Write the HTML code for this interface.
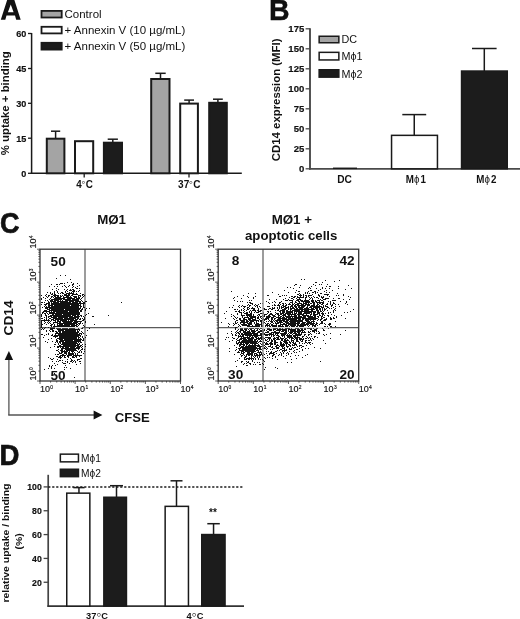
<!DOCTYPE html>
<html><head><meta charset="utf-8"><style>
html,body{margin:0;padding:0;background:#fff;}
body{width:520px;height:619px;overflow:hidden;}
svg{display:block;font-family:"Liberation Sans", sans-serif;fill:#111;filter:blur(0.3px);}
</style></head><body>
<svg width="520" height="619" viewBox="0 0 520 619">
<rect width="520" height="619" fill="#fff"/>
<path fill-rule="evenodd" fill="#111" d="M0.8 19.7L7.3 -0.5L14.2 -0.5L20.7 19.7L16.2 19.7L15.0 15.6L6.5 15.6L5.3 19.7Z M7.9 12.2L10.75 4.4L13.6 12.2Z"/>
<rect x="41.50" y="10.90" width="20.20" height="6.60" fill="#a4a4a4" stroke="#1a1a1a" stroke-width="1.8"/>
<rect x="41.50" y="26.80" width="20.20" height="6.60" fill="#fff" stroke="#1a1a1a" stroke-width="1.8"/>
<rect x="41.50" y="42.80" width="20.20" height="6.80" fill="#1c1c1c" stroke="#1a1a1a" stroke-width="1.8"/>
<text transform="translate(64.51 17.70)" font-size="11.5" font-weight="normal" >Control</text>
<text transform="translate(64.54 33.60)" font-size="11.5" font-weight="normal" >+ Annexin V (10 µg/mL)</text>
<text transform="translate(64.54 49.70)" font-size="11.5" font-weight="normal" >+ Annexin V (50 µg/mL)</text>
<line x1="31.60" y1="33.00" x2="31.60" y2="174.00" stroke="#1a1a1a" stroke-width="1.5" />
<line x1="28.00" y1="33.50" x2="31.60" y2="33.50" stroke="#1a1a1a" stroke-width="1.3" />
<text transform="translate(26.40 36.80) scale(0.93 1.0)" font-size="9.8" font-weight="bold" text-anchor="end" stroke="#111" stroke-width="0.18">60</text>
<line x1="28.00" y1="68.50" x2="31.60" y2="68.50" stroke="#1a1a1a" stroke-width="1.3" />
<text transform="translate(26.40 71.80) scale(0.93 1.0)" font-size="9.8" font-weight="bold" text-anchor="end" stroke="#111" stroke-width="0.18">45</text>
<line x1="28.00" y1="103.30" x2="31.60" y2="103.30" stroke="#1a1a1a" stroke-width="1.3" />
<text transform="translate(26.40 106.60) scale(0.93 1.0)" font-size="9.8" font-weight="bold" text-anchor="end" stroke="#111" stroke-width="0.18">30</text>
<line x1="28.00" y1="138.20" x2="31.60" y2="138.20" stroke="#1a1a1a" stroke-width="1.3" />
<text transform="translate(26.40 141.50) scale(0.93 1.0)" font-size="9.8" font-weight="bold" text-anchor="end" stroke="#111" stroke-width="0.18">15</text>
<line x1="28.00" y1="173.30" x2="31.60" y2="173.30" stroke="#1a1a1a" stroke-width="1.3" />
<text transform="translate(26.40 176.60) scale(0.93 1.0)" font-size="9.8" font-weight="bold" text-anchor="end" stroke="#111" stroke-width="0.18">0</text>
<line x1="30.80" y1="173.30" x2="241.80" y2="173.30" stroke="#1a1a1a" stroke-width="1.5" />
<text transform="translate(8.60 155.30) rotate(-90) scale(1.0 0.88)" font-size="11.4" font-weight="bold" >% uptake + binding</text>
<line x1="55.60" y1="131.20" x2="55.60" y2="138.70" stroke="#1a1a1a" stroke-width="1.5" />
<line x1="51.00" y1="131.20" x2="60.20" y2="131.20" stroke="#1a1a1a" stroke-width="1.5" />
<rect x="46.80" y="138.70" width="17.60" height="34.60" fill="#a4a4a4" stroke="#1a1a1a" stroke-width="2.0"/>
<rect x="75.00" y="141.20" width="18.20" height="32.10" fill="#fff" stroke="#1a1a1a" stroke-width="2.0"/>
<line x1="112.80" y1="139.20" x2="112.80" y2="142.70" stroke="#1a1a1a" stroke-width="1.5" />
<line x1="107.70" y1="139.20" x2="117.90" y2="139.20" stroke="#1a1a1a" stroke-width="1.5" />
<rect x="103.90" y="142.70" width="18.10" height="30.60" fill="#1c1c1c" stroke="#1a1a1a" stroke-width="2.0"/>
<line x1="160.50" y1="73.30" x2="160.50" y2="79.00" stroke="#1a1a1a" stroke-width="1.5" />
<line x1="155.30" y1="73.30" x2="165.70" y2="73.30" stroke="#1a1a1a" stroke-width="1.5" />
<rect x="151.20" y="79.00" width="18.30" height="94.30" fill="#a4a4a4" stroke="#1a1a1a" stroke-width="2.0"/>
<line x1="189.10" y1="100.10" x2="189.10" y2="103.60" stroke="#1a1a1a" stroke-width="1.5" />
<line x1="184.20" y1="100.10" x2="194.00" y2="100.10" stroke="#1a1a1a" stroke-width="1.5" />
<rect x="180.20" y="103.60" width="17.70" height="69.70" fill="#fff" stroke="#1a1a1a" stroke-width="2.0"/>
<line x1="217.90" y1="99.20" x2="217.90" y2="102.80" stroke="#1a1a1a" stroke-width="1.5" />
<line x1="213.00" y1="99.20" x2="222.80" y2="99.20" stroke="#1a1a1a" stroke-width="1.5" />
<rect x="209.20" y="102.80" width="17.60" height="70.50" fill="#1c1c1c" stroke="#1a1a1a" stroke-width="2.0"/>
<line x1="84.20" y1="173.30" x2="84.20" y2="177.50" stroke="#1a1a1a" stroke-width="1.3" />
<line x1="189.00" y1="173.30" x2="189.00" y2="177.50" stroke="#1a1a1a" stroke-width="1.3" />
<text transform="translate(84.50 187.60) scale(0.95 1.0)" font-size="10.4" font-weight="bold" text-anchor="middle" >4<tspan font-weight="bold" font-size="12" dx="-0.3" dy="-2.0">◦</tspan><tspan dx="0.2" dy="2.0">C</tspan></text>
<text transform="translate(189.30 187.80) scale(0.95 1.0)" font-size="10.6" font-weight="bold" text-anchor="middle" >37<tspan font-weight="bold" font-size="12" dx="-0.3" dy="-2.0">◦</tspan><tspan dx="0.2" dy="2.0">C</tspan></text>
<text transform="translate(269.09 20.20) scale(1.0 1.04)" font-size="28.5" font-weight="bold" stroke="#111" stroke-width="0.4">B</text>
<line x1="310.00" y1="28.30" x2="310.00" y2="169.60" stroke="#4a4a4a" stroke-width="1.9" />
<line x1="305.60" y1="28.80" x2="310.00" y2="28.80" stroke="#4a4a4a" stroke-width="1.3" />
<text transform="translate(304.30 32.40) scale(0.965 1.0)" font-size="9.9" font-weight="bold" text-anchor="end" stroke="#111" stroke-width="0.18">175</text>
<line x1="305.60" y1="48.80" x2="310.00" y2="48.80" stroke="#4a4a4a" stroke-width="1.3" />
<text transform="translate(304.30 52.40) scale(0.965 1.0)" font-size="9.9" font-weight="bold" text-anchor="end" stroke="#111" stroke-width="0.18">150</text>
<line x1="305.60" y1="68.80" x2="310.00" y2="68.80" stroke="#4a4a4a" stroke-width="1.3" />
<text transform="translate(304.30 72.40) scale(0.965 1.0)" font-size="9.9" font-weight="bold" text-anchor="end" stroke="#111" stroke-width="0.18">125</text>
<line x1="305.60" y1="88.80" x2="310.00" y2="88.80" stroke="#4a4a4a" stroke-width="1.3" />
<text transform="translate(304.30 92.40) scale(0.965 1.0)" font-size="9.9" font-weight="bold" text-anchor="end" stroke="#111" stroke-width="0.18">100</text>
<line x1="305.60" y1="108.80" x2="310.00" y2="108.80" stroke="#4a4a4a" stroke-width="1.3" />
<text transform="translate(304.30 112.40) scale(0.965 1.0)" font-size="9.9" font-weight="bold" text-anchor="end" stroke="#111" stroke-width="0.18">75</text>
<line x1="305.60" y1="128.80" x2="310.00" y2="128.80" stroke="#4a4a4a" stroke-width="1.3" />
<text transform="translate(304.30 132.40) scale(0.965 1.0)" font-size="9.9" font-weight="bold" text-anchor="end" stroke="#111" stroke-width="0.18">50</text>
<line x1="305.60" y1="148.80" x2="310.00" y2="148.80" stroke="#4a4a4a" stroke-width="1.3" />
<text transform="translate(304.30 152.40) scale(0.965 1.0)" font-size="9.9" font-weight="bold" text-anchor="end" stroke="#111" stroke-width="0.18">25</text>
<line x1="305.60" y1="168.80" x2="310.00" y2="168.80" stroke="#4a4a4a" stroke-width="1.3" />
<text transform="translate(304.30 172.40) scale(0.965 1.0)" font-size="9.9" font-weight="bold" text-anchor="end" stroke="#111" stroke-width="0.18">0</text>
<line x1="309.00" y1="168.80" x2="520.00" y2="168.80" stroke="#4a4a4a" stroke-width="1.7" />
<text transform="translate(279.90 161.20) rotate(-90) scale(1.0 0.88)" font-size="11.4" font-weight="bold" >CD14 expression (MFI)</text>
<rect x="319.15" y="36.25" width="19.70" height="6.50" fill="#a4a4a4" stroke="#1a1a1a" stroke-width="1.5"/>
<rect x="319.15" y="52.35" width="19.70" height="7.60" fill="#fff" stroke="#1a1a1a" stroke-width="1.5"/>
<rect x="319.15" y="69.75" width="19.70" height="7.40" fill="#1c1c1c" stroke="#1a1a1a" stroke-width="1.5"/>
<text transform="translate(341.44 43.00)" font-size="10.8" font-weight="normal" >DC</text>
<text transform="translate(341.44 60.20)" font-size="10.8" font-weight="normal" >Mϕ1</text>
<text transform="translate(341.44 77.60)" font-size="10.8" font-weight="normal" >Mϕ2</text>
<line x1="333.00" y1="168.30" x2="357.00" y2="168.30" stroke="#1a1a1a" stroke-width="1.5" />
<line x1="414.25" y1="114.60" x2="414.25" y2="135.60" stroke="#1a1a1a" stroke-width="1.5" />
<line x1="402.30" y1="114.60" x2="426.20" y2="114.60" stroke="#1a1a1a" stroke-width="1.5" />
<rect x="391.55" y="135.35" width="45.90" height="33.45" fill="#fff" stroke="#1a1a1a" stroke-width="1.5"/>
<line x1="484.30" y1="48.50" x2="484.30" y2="71.30" stroke="#1a1a1a" stroke-width="1.5" />
<line x1="472.00" y1="48.50" x2="496.60" y2="48.50" stroke="#1a1a1a" stroke-width="1.5" />
<rect x="461.55" y="71.05" width="45.70" height="97.75" fill="#1c1c1c" stroke="#1a1a1a" stroke-width="1.5"/>
<text transform="translate(344.60 183.00) scale(0.97 1.0)" font-size="10.5" font-weight="bold" text-anchor="middle" >DC</text>
<text transform="translate(415.80 183.00) scale(0.97 1.0)" font-size="10.1" font-weight="bold" text-anchor="middle" >M<tspan font-weight="normal">ϕ</tspan><tspan dx="1">1</tspan></text>
<text transform="translate(486.40 183.00) scale(0.97 1.0)" font-size="10.1" font-weight="bold" text-anchor="middle" >M<tspan font-weight="normal">ϕ</tspan><tspan dx="1">2</tspan></text>
<text transform="translate(-0.10 233.00) scale(0.91 1.0)" font-size="29.6" font-weight="bold" stroke="#111" stroke-width="0.7">C</text>
<text transform="translate(111.60 223.60)" font-size="13.3" font-weight="bold" text-anchor="middle" >MØ1</text>
<text transform="translate(291.80 224.40)" font-size="13.3" font-weight="bold" text-anchor="middle" >MØ1 +</text>
<text transform="translate(291.20 240.40)" font-size="13.2" font-weight="bold" text-anchor="middle" >apoptotic cells</text>
<line x1="85.00" y1="249.20" x2="85.00" y2="381.00" stroke="#5a5a5a" stroke-width="1.2" />
<line x1="40.00" y1="327.60" x2="180.50" y2="327.60" stroke="#5a5a5a" stroke-width="1.2" />
<path d="M41 295h1v1h-1zM41 298h1v1h-1zM41 299h1v1h-1zM41 302h1v1h-1zM41 304h1v1h-1zM41 314h1v1h-1zM41 315h1v1h-1zM41 316h1v1h-1zM41 318h1v1h-1zM41 320h1v1h-1zM41 321h1v1h-1zM41 322h1v1h-1zM41 323h1v1h-1zM41 324h1v1h-1zM41 325h1v1h-1zM41 326h1v1h-1zM41 327h1v1h-1zM41 329h1v1h-1zM41 334h1v1h-1zM42 302h1v1h-1zM42 307h1v1h-1zM42 312h1v1h-1zM42 313h1v1h-1zM42 318h1v1h-1zM42 320h1v1h-1zM42 324h1v1h-1zM42 328h1v1h-1zM42 334h1v1h-1zM43 297h1v1h-1zM43 311h1v1h-1zM43 312h1v1h-1zM43 320h1v1h-1zM43 329h1v1h-1zM43 337h1v1h-1zM44 302h1v1h-1zM44 304h1v1h-1zM44 306h1v1h-1zM44 310h1v1h-1zM44 311h1v1h-1zM44 313h1v1h-1zM44 317h1v1h-1zM44 319h1v1h-1zM44 320h1v1h-1zM44 321h1v1h-1zM44 323h1v1h-1zM44 328h1v1h-1zM44 335h1v1h-1zM44 369h1v1h-1zM45 295h1v1h-1zM45 298h1v1h-1zM45 300h1v1h-1zM45 304h1v1h-1zM45 305h1v1h-1zM45 307h1v1h-1zM45 308h1v1h-1zM45 310h1v1h-1zM45 311h1v1h-1zM45 313h1v1h-1zM45 314h1v1h-1zM45 315h1v1h-1zM45 320h1v1h-1zM45 322h1v1h-1zM45 327h1v1h-1zM45 341h1v1h-1zM46 294h1v1h-1zM46 296h1v1h-1zM46 303h1v1h-1zM46 304h1v1h-1zM46 306h1v1h-1zM46 307h1v1h-1zM46 308h1v1h-1zM46 310h1v1h-1zM46 311h1v1h-1zM46 312h1v1h-1zM46 315h1v1h-1zM46 316h1v1h-1zM46 317h1v1h-1zM46 318h1v1h-1zM46 319h1v1h-1zM46 320h1v1h-1zM46 324h1v1h-1zM46 330h1v1h-1zM46 331h1v1h-1zM46 334h1v1h-1zM47 292h1v1h-1zM47 297h1v1h-1zM47 300h1v1h-1zM47 303h1v1h-1zM47 307h1v1h-1zM47 308h1v1h-1zM47 309h1v1h-1zM47 311h1v1h-1zM47 313h1v1h-1zM47 320h1v1h-1zM47 322h1v1h-1zM47 342h1v1h-1zM48 295h1v1h-1zM48 296h1v1h-1zM48 301h1v1h-1zM48 302h1v1h-1zM48 303h1v1h-1zM48 304h1v1h-1zM48 305h1v1h-1zM48 306h1v1h-1zM48 307h1v1h-1zM48 309h1v1h-1zM48 311h1v1h-1zM48 314h1v1h-1zM48 316h1v1h-1zM48 317h1v1h-1zM48 319h1v1h-1zM48 320h1v1h-1zM48 321h1v1h-1zM48 323h1v1h-1zM48 327h1v1h-1zM48 333h1v1h-1zM48 334h1v1h-1zM48 339h1v1h-1zM48 357h1v1h-1zM48 368h1v1h-1zM49 286h1v1h-1zM49 295h1v1h-1zM49 299h1v1h-1zM49 302h1v1h-1zM49 303h1v1h-1zM49 304h1v1h-1zM49 305h1v1h-1zM49 306h1v1h-1zM49 307h1v1h-1zM49 308h1v1h-1zM49 309h1v1h-1zM49 310h1v1h-1zM49 311h1v1h-1zM49 312h1v1h-1zM49 313h1v1h-1zM49 316h1v1h-1zM49 318h1v1h-1zM49 320h1v1h-1zM49 322h1v1h-1zM49 330h1v1h-1zM49 365h1v1h-1zM49 366h1v1h-1zM50 292h1v1h-1zM50 293h1v1h-1zM50 298h1v1h-1zM50 300h1v1h-1zM50 301h1v1h-1zM50 305h1v1h-1zM50 307h1v1h-1zM50 308h1v1h-1zM50 310h1v1h-1zM50 312h1v1h-1zM50 313h1v1h-1zM50 315h1v1h-1zM50 316h1v1h-1zM50 318h1v1h-1zM50 321h1v1h-1zM50 323h1v1h-1zM50 325h1v1h-1zM50 328h1v1h-1zM50 329h1v1h-1zM50 331h1v1h-1zM50 347h1v1h-1zM50 358h1v1h-1zM51 284h1v1h-1zM51 294h1v1h-1zM51 296h1v1h-1zM51 297h1v1h-1zM51 299h1v1h-1zM51 300h1v1h-1zM51 301h1v1h-1zM51 302h1v1h-1zM51 303h1v1h-1zM51 304h1v1h-1zM51 305h1v1h-1zM51 306h1v1h-1zM51 307h1v1h-1zM51 308h1v1h-1zM51 309h1v1h-1zM51 310h1v1h-1zM51 311h1v1h-1zM51 312h1v1h-1zM51 313h1v1h-1zM51 315h1v1h-1zM51 316h1v1h-1zM51 317h1v1h-1zM51 319h1v1h-1zM51 320h1v1h-1zM51 324h1v1h-1zM51 325h1v1h-1zM51 326h1v1h-1zM51 328h1v1h-1zM51 329h1v1h-1zM51 335h1v1h-1zM51 338h1v1h-1zM51 359h1v1h-1zM51 366h1v1h-1zM51 367h1v1h-1zM51 368h1v1h-1zM52 289h1v1h-1zM52 293h1v1h-1zM52 294h1v1h-1zM52 296h1v1h-1zM52 299h1v1h-1zM52 300h1v1h-1zM52 301h1v1h-1zM52 303h1v1h-1zM52 304h1v1h-1zM52 305h1v1h-1zM52 306h1v1h-1zM52 307h1v1h-1zM52 308h1v1h-1zM52 309h1v1h-1zM52 310h1v1h-1zM52 312h1v1h-1zM52 313h1v1h-1zM52 314h1v1h-1zM52 315h1v1h-1zM52 317h1v1h-1zM52 319h1v1h-1zM52 324h1v1h-1zM52 328h1v1h-1zM52 329h1v1h-1zM52 330h1v1h-1zM52 331h1v1h-1zM52 334h1v1h-1zM52 335h1v1h-1zM52 341h1v1h-1zM52 359h1v1h-1zM52 361h1v1h-1zM52 365h1v1h-1zM53 295h1v1h-1zM53 297h1v1h-1zM53 299h1v1h-1zM53 301h1v1h-1zM53 302h1v1h-1zM53 303h1v1h-1zM53 304h1v1h-1zM53 306h1v1h-1zM53 307h1v1h-1zM53 308h1v1h-1zM53 309h1v1h-1zM53 310h1v1h-1zM53 311h1v1h-1zM53 312h1v1h-1zM53 313h1v1h-1zM53 314h1v1h-1zM53 315h1v1h-1zM53 316h1v1h-1zM53 317h1v1h-1zM53 318h1v1h-1zM53 319h1v1h-1zM53 320h1v1h-1zM53 322h1v1h-1zM53 323h1v1h-1zM53 326h1v1h-1zM53 328h1v1h-1zM53 330h1v1h-1zM53 331h1v1h-1zM53 336h1v1h-1zM53 358h1v1h-1zM54 286h1v1h-1zM54 291h1v1h-1zM54 292h1v1h-1zM54 293h1v1h-1zM54 294h1v1h-1zM54 295h1v1h-1zM54 296h1v1h-1zM54 298h1v1h-1zM54 299h1v1h-1zM54 300h1v1h-1zM54 301h1v1h-1zM54 302h1v1h-1zM54 303h1v1h-1zM54 304h1v1h-1zM54 305h1v1h-1zM54 306h1v1h-1zM54 307h1v1h-1zM54 308h1v1h-1zM54 309h1v1h-1zM54 310h1v1h-1zM54 311h1v1h-1zM54 312h1v1h-1zM54 313h1v1h-1zM54 315h1v1h-1zM54 316h1v1h-1zM54 317h1v1h-1zM54 318h1v1h-1zM54 320h1v1h-1zM54 322h1v1h-1zM54 324h1v1h-1zM54 325h1v1h-1zM54 326h1v1h-1zM54 328h1v1h-1zM54 335h1v1h-1zM54 336h1v1h-1zM54 344h1v1h-1zM54 346h1v1h-1zM54 363h1v1h-1zM54 368h1v1h-1zM54 373h1v1h-1zM55 294h1v1h-1zM55 295h1v1h-1zM55 296h1v1h-1zM55 297h1v1h-1zM55 298h1v1h-1zM55 299h1v1h-1zM55 300h1v1h-1zM55 301h1v1h-1zM55 302h1v1h-1zM55 303h1v1h-1zM55 304h1v1h-1zM55 305h1v1h-1zM55 306h1v1h-1zM55 307h1v1h-1zM55 308h1v1h-1zM55 309h1v1h-1zM55 310h1v1h-1zM55 311h1v1h-1zM55 313h1v1h-1zM55 314h1v1h-1zM55 315h1v1h-1zM55 316h1v1h-1zM55 317h1v1h-1zM55 318h1v1h-1zM55 319h1v1h-1zM55 320h1v1h-1zM55 321h1v1h-1zM55 322h1v1h-1zM55 326h1v1h-1zM55 331h1v1h-1zM55 333h1v1h-1zM55 334h1v1h-1zM55 335h1v1h-1zM55 336h1v1h-1zM55 337h1v1h-1zM55 342h1v1h-1zM55 344h1v1h-1zM55 354h1v1h-1zM55 365h1v1h-1zM56 278h1v1h-1zM56 284h1v1h-1zM56 288h1v1h-1zM56 290h1v1h-1zM56 295h1v1h-1zM56 297h1v1h-1zM56 298h1v1h-1zM56 299h1v1h-1zM56 300h1v1h-1zM56 302h1v1h-1zM56 303h1v1h-1zM56 304h1v1h-1zM56 305h1v1h-1zM56 306h1v1h-1zM56 307h1v1h-1zM56 308h1v1h-1zM56 309h1v1h-1zM56 310h1v1h-1zM56 311h1v1h-1zM56 312h1v1h-1zM56 313h1v1h-1zM56 314h1v1h-1zM56 315h1v1h-1zM56 316h1v1h-1zM56 317h1v1h-1zM56 318h1v1h-1zM56 319h1v1h-1zM56 322h1v1h-1zM56 326h1v1h-1zM56 327h1v1h-1zM56 328h1v1h-1zM56 331h1v1h-1zM56 332h1v1h-1zM56 333h1v1h-1zM56 335h1v1h-1zM56 336h1v1h-1zM56 339h1v1h-1zM56 340h1v1h-1zM56 341h1v1h-1zM56 350h1v1h-1zM56 356h1v1h-1zM56 361h1v1h-1zM57 284h1v1h-1zM57 286h1v1h-1zM57 291h1v1h-1zM57 292h1v1h-1zM57 295h1v1h-1zM57 296h1v1h-1zM57 297h1v1h-1zM57 298h1v1h-1zM57 299h1v1h-1zM57 300h1v1h-1zM57 301h1v1h-1zM57 302h1v1h-1zM57 303h1v1h-1zM57 304h1v1h-1zM57 305h1v1h-1zM57 306h1v1h-1zM57 307h1v1h-1zM57 308h1v1h-1zM57 309h1v1h-1zM57 310h1v1h-1zM57 311h1v1h-1zM57 312h1v1h-1zM57 313h1v1h-1zM57 314h1v1h-1zM57 315h1v1h-1zM57 316h1v1h-1zM57 318h1v1h-1zM57 319h1v1h-1zM57 320h1v1h-1zM57 321h1v1h-1zM57 322h1v1h-1zM57 323h1v1h-1zM57 324h1v1h-1zM57 325h1v1h-1zM57 326h1v1h-1zM57 328h1v1h-1zM57 329h1v1h-1zM57 332h1v1h-1zM57 333h1v1h-1zM57 335h1v1h-1zM57 336h1v1h-1zM57 338h1v1h-1zM57 340h1v1h-1zM57 341h1v1h-1zM57 342h1v1h-1zM57 346h1v1h-1zM57 347h1v1h-1zM57 350h1v1h-1zM57 354h1v1h-1zM57 356h1v1h-1zM57 359h1v1h-1zM57 364h1v1h-1zM58 289h1v1h-1zM58 293h1v1h-1zM58 295h1v1h-1zM58 296h1v1h-1zM58 297h1v1h-1zM58 298h1v1h-1zM58 299h1v1h-1zM58 300h1v1h-1zM58 301h1v1h-1zM58 302h1v1h-1zM58 303h1v1h-1zM58 304h1v1h-1zM58 305h1v1h-1zM58 306h1v1h-1zM58 307h1v1h-1zM58 308h1v1h-1zM58 309h1v1h-1zM58 310h1v1h-1zM58 311h1v1h-1zM58 312h1v1h-1zM58 313h1v1h-1zM58 314h1v1h-1zM58 315h1v1h-1zM58 316h1v1h-1zM58 317h1v1h-1zM58 318h1v1h-1zM58 319h1v1h-1zM58 320h1v1h-1zM58 321h1v1h-1zM58 323h1v1h-1zM58 325h1v1h-1zM58 326h1v1h-1zM58 328h1v1h-1zM58 329h1v1h-1zM58 330h1v1h-1zM58 331h1v1h-1zM58 333h1v1h-1zM58 334h1v1h-1zM58 335h1v1h-1zM58 338h1v1h-1zM58 343h1v1h-1zM58 344h1v1h-1zM58 346h1v1h-1zM58 347h1v1h-1zM58 349h1v1h-1zM58 351h1v1h-1zM58 354h1v1h-1zM58 357h1v1h-1zM58 361h1v1h-1zM59 284h1v1h-1zM59 297h1v1h-1zM59 298h1v1h-1zM59 299h1v1h-1zM59 301h1v1h-1zM59 303h1v1h-1zM59 304h1v1h-1zM59 305h1v1h-1zM59 306h1v1h-1zM59 307h1v1h-1zM59 308h1v1h-1zM59 309h1v1h-1zM59 310h1v1h-1zM59 311h1v1h-1zM59 312h1v1h-1zM59 313h1v1h-1zM59 314h1v1h-1zM59 315h1v1h-1zM59 316h1v1h-1zM59 317h1v1h-1zM59 318h1v1h-1zM59 319h1v1h-1zM59 321h1v1h-1zM59 322h1v1h-1zM59 323h1v1h-1zM59 324h1v1h-1zM59 325h1v1h-1zM59 326h1v1h-1zM59 327h1v1h-1zM59 328h1v1h-1zM59 329h1v1h-1zM59 330h1v1h-1zM59 331h1v1h-1zM59 332h1v1h-1zM59 333h1v1h-1zM59 334h1v1h-1zM59 335h1v1h-1zM59 336h1v1h-1zM59 337h1v1h-1zM59 338h1v1h-1zM59 339h1v1h-1zM59 341h1v1h-1zM59 342h1v1h-1zM59 345h1v1h-1zM59 346h1v1h-1zM59 352h1v1h-1zM59 353h1v1h-1zM59 356h1v1h-1zM59 357h1v1h-1zM59 360h1v1h-1zM60 275h1v1h-1zM60 283h1v1h-1zM60 293h1v1h-1zM60 295h1v1h-1zM60 296h1v1h-1zM60 297h1v1h-1zM60 298h1v1h-1zM60 299h1v1h-1zM60 300h1v1h-1zM60 301h1v1h-1zM60 302h1v1h-1zM60 303h1v1h-1zM60 304h1v1h-1zM60 305h1v1h-1zM60 306h1v1h-1zM60 307h1v1h-1zM60 308h1v1h-1zM60 309h1v1h-1zM60 310h1v1h-1zM60 311h1v1h-1zM60 312h1v1h-1zM60 313h1v1h-1zM60 314h1v1h-1zM60 315h1v1h-1zM60 316h1v1h-1zM60 317h1v1h-1zM60 318h1v1h-1zM60 319h1v1h-1zM60 320h1v1h-1zM60 321h1v1h-1zM60 322h1v1h-1zM60 323h1v1h-1zM60 324h1v1h-1zM60 325h1v1h-1zM60 326h1v1h-1zM60 327h1v1h-1zM60 328h1v1h-1zM60 329h1v1h-1zM60 330h1v1h-1zM60 331h1v1h-1zM60 332h1v1h-1zM60 333h1v1h-1zM60 334h1v1h-1zM60 335h1v1h-1zM60 336h1v1h-1zM60 337h1v1h-1zM60 338h1v1h-1zM60 339h1v1h-1zM60 340h1v1h-1zM60 341h1v1h-1zM60 342h1v1h-1zM60 343h1v1h-1zM60 345h1v1h-1zM60 346h1v1h-1zM60 347h1v1h-1zM60 350h1v1h-1zM60 353h1v1h-1zM60 355h1v1h-1zM60 356h1v1h-1zM60 357h1v1h-1zM60 358h1v1h-1zM60 360h1v1h-1zM61 283h1v1h-1zM61 292h1v1h-1zM61 296h1v1h-1zM61 298h1v1h-1zM61 299h1v1h-1zM61 301h1v1h-1zM61 302h1v1h-1zM61 303h1v1h-1zM61 304h1v1h-1zM61 305h1v1h-1zM61 306h1v1h-1zM61 307h1v1h-1zM61 308h1v1h-1zM61 309h1v1h-1zM61 310h1v1h-1zM61 311h1v1h-1zM61 312h1v1h-1zM61 313h1v1h-1zM61 314h1v1h-1zM61 315h1v1h-1zM61 316h1v1h-1zM61 317h1v1h-1zM61 318h1v1h-1zM61 319h1v1h-1zM61 320h1v1h-1zM61 323h1v1h-1zM61 324h1v1h-1zM61 325h1v1h-1zM61 326h1v1h-1zM61 329h1v1h-1zM61 330h1v1h-1zM61 333h1v1h-1zM61 334h1v1h-1zM61 335h1v1h-1zM61 336h1v1h-1zM61 337h1v1h-1zM61 338h1v1h-1zM61 339h1v1h-1zM61 340h1v1h-1zM61 341h1v1h-1zM61 344h1v1h-1zM61 346h1v1h-1zM61 348h1v1h-1zM61 349h1v1h-1zM61 350h1v1h-1zM61 351h1v1h-1zM61 352h1v1h-1zM61 353h1v1h-1zM61 355h1v1h-1zM61 357h1v1h-1zM62 283h1v1h-1zM62 286h1v1h-1zM62 292h1v1h-1zM62 293h1v1h-1zM62 295h1v1h-1zM62 298h1v1h-1zM62 300h1v1h-1zM62 301h1v1h-1zM62 302h1v1h-1zM62 303h1v1h-1zM62 304h1v1h-1zM62 305h1v1h-1zM62 306h1v1h-1zM62 307h1v1h-1zM62 308h1v1h-1zM62 309h1v1h-1zM62 310h1v1h-1zM62 311h1v1h-1zM62 312h1v1h-1zM62 313h1v1h-1zM62 315h1v1h-1zM62 316h1v1h-1zM62 317h1v1h-1zM62 318h1v1h-1zM62 319h1v1h-1zM62 320h1v1h-1zM62 321h1v1h-1zM62 323h1v1h-1zM62 324h1v1h-1zM62 325h1v1h-1zM62 326h1v1h-1zM62 328h1v1h-1zM62 329h1v1h-1zM62 330h1v1h-1zM62 331h1v1h-1zM62 332h1v1h-1zM62 333h1v1h-1zM62 334h1v1h-1zM62 335h1v1h-1zM62 336h1v1h-1zM62 337h1v1h-1zM62 338h1v1h-1zM62 339h1v1h-1zM62 340h1v1h-1zM62 341h1v1h-1zM62 342h1v1h-1zM62 343h1v1h-1zM62 344h1v1h-1zM62 346h1v1h-1zM62 347h1v1h-1zM62 348h1v1h-1zM62 349h1v1h-1zM62 350h1v1h-1zM62 351h1v1h-1zM62 352h1v1h-1zM62 354h1v1h-1zM62 355h1v1h-1zM62 356h1v1h-1zM62 360h1v1h-1zM62 362h1v1h-1zM63 293h1v1h-1zM63 296h1v1h-1zM63 297h1v1h-1zM63 298h1v1h-1zM63 299h1v1h-1zM63 301h1v1h-1zM63 302h1v1h-1zM63 303h1v1h-1zM63 304h1v1h-1zM63 305h1v1h-1zM63 306h1v1h-1zM63 307h1v1h-1zM63 308h1v1h-1zM63 309h1v1h-1zM63 310h1v1h-1zM63 311h1v1h-1zM63 312h1v1h-1zM63 313h1v1h-1zM63 314h1v1h-1zM63 315h1v1h-1zM63 316h1v1h-1zM63 317h1v1h-1zM63 319h1v1h-1zM63 320h1v1h-1zM63 321h1v1h-1zM63 322h1v1h-1zM63 323h1v1h-1zM63 325h1v1h-1zM63 326h1v1h-1zM63 327h1v1h-1zM63 328h1v1h-1zM63 329h1v1h-1zM63 330h1v1h-1zM63 331h1v1h-1zM63 332h1v1h-1zM63 333h1v1h-1zM63 334h1v1h-1zM63 335h1v1h-1zM63 336h1v1h-1zM63 337h1v1h-1zM63 338h1v1h-1zM63 340h1v1h-1zM63 341h1v1h-1zM63 342h1v1h-1zM63 343h1v1h-1zM63 344h1v1h-1zM63 345h1v1h-1zM63 346h1v1h-1zM63 347h1v1h-1zM63 348h1v1h-1zM63 351h1v1h-1zM63 354h1v1h-1zM63 355h1v1h-1zM63 363h1v1h-1zM64 283h1v1h-1zM64 285h1v1h-1zM64 289h1v1h-1zM64 294h1v1h-1zM64 295h1v1h-1zM64 297h1v1h-1zM64 298h1v1h-1zM64 299h1v1h-1zM64 301h1v1h-1zM64 302h1v1h-1zM64 303h1v1h-1zM64 304h1v1h-1zM64 305h1v1h-1zM64 306h1v1h-1zM64 307h1v1h-1zM64 308h1v1h-1zM64 310h1v1h-1zM64 311h1v1h-1zM64 312h1v1h-1zM64 313h1v1h-1zM64 314h1v1h-1zM64 315h1v1h-1zM64 316h1v1h-1zM64 317h1v1h-1zM64 318h1v1h-1zM64 319h1v1h-1zM64 320h1v1h-1zM64 321h1v1h-1zM64 322h1v1h-1zM64 323h1v1h-1zM64 324h1v1h-1zM64 325h1v1h-1zM64 326h1v1h-1zM64 327h1v1h-1zM64 328h1v1h-1zM64 329h1v1h-1zM64 331h1v1h-1zM64 332h1v1h-1zM64 333h1v1h-1zM64 334h1v1h-1zM64 335h1v1h-1zM64 336h1v1h-1zM64 337h1v1h-1zM64 338h1v1h-1zM64 339h1v1h-1zM64 340h1v1h-1zM64 342h1v1h-1zM64 343h1v1h-1zM64 344h1v1h-1zM64 345h1v1h-1zM64 346h1v1h-1zM64 348h1v1h-1zM64 350h1v1h-1zM64 351h1v1h-1zM64 352h1v1h-1zM64 353h1v1h-1zM64 355h1v1h-1zM64 356h1v1h-1zM64 357h1v1h-1zM64 363h1v1h-1zM64 367h1v1h-1zM64 369h1v1h-1zM65 275h1v1h-1zM65 286h1v1h-1zM65 291h1v1h-1zM65 292h1v1h-1zM65 294h1v1h-1zM65 295h1v1h-1zM65 297h1v1h-1zM65 299h1v1h-1zM65 300h1v1h-1zM65 301h1v1h-1zM65 302h1v1h-1zM65 303h1v1h-1zM65 304h1v1h-1zM65 305h1v1h-1zM65 306h1v1h-1zM65 307h1v1h-1zM65 308h1v1h-1zM65 309h1v1h-1zM65 310h1v1h-1zM65 311h1v1h-1zM65 312h1v1h-1zM65 313h1v1h-1zM65 314h1v1h-1zM65 315h1v1h-1zM65 316h1v1h-1zM65 317h1v1h-1zM65 318h1v1h-1zM65 319h1v1h-1zM65 320h1v1h-1zM65 321h1v1h-1zM65 322h1v1h-1zM65 323h1v1h-1zM65 324h1v1h-1zM65 325h1v1h-1zM65 326h1v1h-1zM65 327h1v1h-1zM65 328h1v1h-1zM65 329h1v1h-1zM65 330h1v1h-1zM65 331h1v1h-1zM65 332h1v1h-1zM65 333h1v1h-1zM65 334h1v1h-1zM65 335h1v1h-1zM65 336h1v1h-1zM65 337h1v1h-1zM65 338h1v1h-1zM65 339h1v1h-1zM65 340h1v1h-1zM65 341h1v1h-1zM65 342h1v1h-1zM65 343h1v1h-1zM65 344h1v1h-1zM65 345h1v1h-1zM65 346h1v1h-1zM65 347h1v1h-1zM65 348h1v1h-1zM65 349h1v1h-1zM65 351h1v1h-1zM65 352h1v1h-1zM65 353h1v1h-1zM65 355h1v1h-1zM65 357h1v1h-1zM65 361h1v1h-1zM65 363h1v1h-1zM65 365h1v1h-1zM66 287h1v1h-1zM66 290h1v1h-1zM66 293h1v1h-1zM66 294h1v1h-1zM66 295h1v1h-1zM66 296h1v1h-1zM66 297h1v1h-1zM66 299h1v1h-1zM66 300h1v1h-1zM66 301h1v1h-1zM66 302h1v1h-1zM66 303h1v1h-1zM66 304h1v1h-1zM66 305h1v1h-1zM66 306h1v1h-1zM66 307h1v1h-1zM66 308h1v1h-1zM66 309h1v1h-1zM66 310h1v1h-1zM66 311h1v1h-1zM66 312h1v1h-1zM66 313h1v1h-1zM66 314h1v1h-1zM66 315h1v1h-1zM66 316h1v1h-1zM66 317h1v1h-1zM66 318h1v1h-1zM66 319h1v1h-1zM66 320h1v1h-1zM66 321h1v1h-1zM66 322h1v1h-1zM66 323h1v1h-1zM66 324h1v1h-1zM66 325h1v1h-1zM66 326h1v1h-1zM66 328h1v1h-1zM66 329h1v1h-1zM66 330h1v1h-1zM66 331h1v1h-1zM66 332h1v1h-1zM66 333h1v1h-1zM66 334h1v1h-1zM66 335h1v1h-1zM66 336h1v1h-1zM66 337h1v1h-1zM66 338h1v1h-1zM66 339h1v1h-1zM66 340h1v1h-1zM66 341h1v1h-1zM66 342h1v1h-1zM66 343h1v1h-1zM66 344h1v1h-1zM66 345h1v1h-1zM66 346h1v1h-1zM66 347h1v1h-1zM66 348h1v1h-1zM66 349h1v1h-1zM66 350h1v1h-1zM66 351h1v1h-1zM66 352h1v1h-1zM66 353h1v1h-1zM66 354h1v1h-1zM66 367h1v1h-1zM67 282h1v1h-1zM67 289h1v1h-1zM67 291h1v1h-1zM67 293h1v1h-1zM67 295h1v1h-1zM67 296h1v1h-1zM67 297h1v1h-1zM67 298h1v1h-1zM67 299h1v1h-1zM67 300h1v1h-1zM67 301h1v1h-1zM67 302h1v1h-1zM67 303h1v1h-1zM67 304h1v1h-1zM67 305h1v1h-1zM67 306h1v1h-1zM67 307h1v1h-1zM67 308h1v1h-1zM67 309h1v1h-1zM67 310h1v1h-1zM67 311h1v1h-1zM67 312h1v1h-1zM67 313h1v1h-1zM67 314h1v1h-1zM67 315h1v1h-1zM67 316h1v1h-1zM67 317h1v1h-1zM67 318h1v1h-1zM67 319h1v1h-1zM67 321h1v1h-1zM67 322h1v1h-1zM67 323h1v1h-1zM67 324h1v1h-1zM67 325h1v1h-1zM67 326h1v1h-1zM67 327h1v1h-1zM67 328h1v1h-1zM67 329h1v1h-1zM67 330h1v1h-1zM67 331h1v1h-1zM67 332h1v1h-1zM67 333h1v1h-1zM67 334h1v1h-1zM67 335h1v1h-1zM67 336h1v1h-1zM67 337h1v1h-1zM67 338h1v1h-1zM67 339h1v1h-1zM67 340h1v1h-1zM67 341h1v1h-1zM67 342h1v1h-1zM67 343h1v1h-1zM67 344h1v1h-1zM67 345h1v1h-1zM67 346h1v1h-1zM67 347h1v1h-1zM67 348h1v1h-1zM67 349h1v1h-1zM67 350h1v1h-1zM67 351h1v1h-1zM67 355h1v1h-1zM67 356h1v1h-1zM67 359h1v1h-1zM67 361h1v1h-1zM67 362h1v1h-1zM68 286h1v1h-1zM68 293h1v1h-1zM68 294h1v1h-1zM68 295h1v1h-1zM68 296h1v1h-1zM68 297h1v1h-1zM68 298h1v1h-1zM68 299h1v1h-1zM68 300h1v1h-1zM68 302h1v1h-1zM68 303h1v1h-1zM68 304h1v1h-1zM68 305h1v1h-1zM68 306h1v1h-1zM68 307h1v1h-1zM68 308h1v1h-1zM68 309h1v1h-1zM68 310h1v1h-1zM68 312h1v1h-1zM68 313h1v1h-1zM68 314h1v1h-1zM68 315h1v1h-1zM68 316h1v1h-1zM68 318h1v1h-1zM68 319h1v1h-1zM68 320h1v1h-1zM68 321h1v1h-1zM68 322h1v1h-1zM68 323h1v1h-1zM68 324h1v1h-1zM68 325h1v1h-1zM68 326h1v1h-1zM68 327h1v1h-1zM68 329h1v1h-1zM68 330h1v1h-1zM68 331h1v1h-1zM68 332h1v1h-1zM68 333h1v1h-1zM68 334h1v1h-1zM68 335h1v1h-1zM68 336h1v1h-1zM68 337h1v1h-1zM68 338h1v1h-1zM68 339h1v1h-1zM68 340h1v1h-1zM68 341h1v1h-1zM68 342h1v1h-1zM68 343h1v1h-1zM68 344h1v1h-1zM68 345h1v1h-1zM68 346h1v1h-1zM68 347h1v1h-1zM68 348h1v1h-1zM68 349h1v1h-1zM68 350h1v1h-1zM68 352h1v1h-1zM68 353h1v1h-1zM68 354h1v1h-1zM68 355h1v1h-1zM68 356h1v1h-1zM68 357h1v1h-1zM69 285h1v1h-1zM69 290h1v1h-1zM69 292h1v1h-1zM69 293h1v1h-1zM69 294h1v1h-1zM69 295h1v1h-1zM69 297h1v1h-1zM69 298h1v1h-1zM69 299h1v1h-1zM69 300h1v1h-1zM69 301h1v1h-1zM69 302h1v1h-1zM69 303h1v1h-1zM69 304h1v1h-1zM69 305h1v1h-1zM69 306h1v1h-1zM69 307h1v1h-1zM69 308h1v1h-1zM69 309h1v1h-1zM69 310h1v1h-1zM69 311h1v1h-1zM69 312h1v1h-1zM69 313h1v1h-1zM69 314h1v1h-1zM69 315h1v1h-1zM69 316h1v1h-1zM69 317h1v1h-1zM69 318h1v1h-1zM69 319h1v1h-1zM69 321h1v1h-1zM69 322h1v1h-1zM69 323h1v1h-1zM69 324h1v1h-1zM69 325h1v1h-1zM69 326h1v1h-1zM69 327h1v1h-1zM69 328h1v1h-1zM69 329h1v1h-1zM69 330h1v1h-1zM69 331h1v1h-1zM69 332h1v1h-1zM69 333h1v1h-1zM69 334h1v1h-1zM69 335h1v1h-1zM69 336h1v1h-1zM69 337h1v1h-1zM69 338h1v1h-1zM69 339h1v1h-1zM69 340h1v1h-1zM69 341h1v1h-1zM69 342h1v1h-1zM69 343h1v1h-1zM69 344h1v1h-1zM69 345h1v1h-1zM69 346h1v1h-1zM69 348h1v1h-1zM69 349h1v1h-1zM69 350h1v1h-1zM69 351h1v1h-1zM69 352h1v1h-1zM69 353h1v1h-1zM69 354h1v1h-1zM69 355h1v1h-1zM69 363h1v1h-1zM70 279h1v1h-1zM70 289h1v1h-1zM70 290h1v1h-1zM70 293h1v1h-1zM70 296h1v1h-1zM70 297h1v1h-1zM70 298h1v1h-1zM70 299h1v1h-1zM70 300h1v1h-1zM70 301h1v1h-1zM70 302h1v1h-1zM70 303h1v1h-1zM70 304h1v1h-1zM70 306h1v1h-1zM70 307h1v1h-1zM70 308h1v1h-1zM70 309h1v1h-1zM70 310h1v1h-1zM70 311h1v1h-1zM70 312h1v1h-1zM70 313h1v1h-1zM70 314h1v1h-1zM70 315h1v1h-1zM70 316h1v1h-1zM70 317h1v1h-1zM70 318h1v1h-1zM70 319h1v1h-1zM70 320h1v1h-1zM70 321h1v1h-1zM70 322h1v1h-1zM70 323h1v1h-1zM70 324h1v1h-1zM70 326h1v1h-1zM70 327h1v1h-1zM70 328h1v1h-1zM70 329h1v1h-1zM70 330h1v1h-1zM70 331h1v1h-1zM70 332h1v1h-1zM70 333h1v1h-1zM70 334h1v1h-1zM70 335h1v1h-1zM70 336h1v1h-1zM70 337h1v1h-1zM70 338h1v1h-1zM70 339h1v1h-1zM70 340h1v1h-1zM70 341h1v1h-1zM70 342h1v1h-1zM70 343h1v1h-1zM70 344h1v1h-1zM70 345h1v1h-1zM70 346h1v1h-1zM70 347h1v1h-1zM70 348h1v1h-1zM70 349h1v1h-1zM70 350h1v1h-1zM70 353h1v1h-1zM70 354h1v1h-1zM70 355h1v1h-1zM70 358h1v1h-1zM70 361h1v1h-1zM70 368h1v1h-1zM71 282h1v1h-1zM71 290h1v1h-1zM71 292h1v1h-1zM71 293h1v1h-1zM71 295h1v1h-1zM71 297h1v1h-1zM71 298h1v1h-1zM71 300h1v1h-1zM71 301h1v1h-1zM71 303h1v1h-1zM71 304h1v1h-1zM71 305h1v1h-1zM71 306h1v1h-1zM71 307h1v1h-1zM71 308h1v1h-1zM71 309h1v1h-1zM71 310h1v1h-1zM71 311h1v1h-1zM71 312h1v1h-1zM71 313h1v1h-1zM71 314h1v1h-1zM71 316h1v1h-1zM71 317h1v1h-1zM71 318h1v1h-1zM71 319h1v1h-1zM71 320h1v1h-1zM71 321h1v1h-1zM71 322h1v1h-1zM71 323h1v1h-1zM71 324h1v1h-1zM71 325h1v1h-1zM71 326h1v1h-1zM71 327h1v1h-1zM71 328h1v1h-1zM71 329h1v1h-1zM71 330h1v1h-1zM71 331h1v1h-1zM71 332h1v1h-1zM71 333h1v1h-1zM71 334h1v1h-1zM71 335h1v1h-1zM71 336h1v1h-1zM71 337h1v1h-1zM71 338h1v1h-1zM71 339h1v1h-1zM71 340h1v1h-1zM71 341h1v1h-1zM71 342h1v1h-1zM71 343h1v1h-1zM71 344h1v1h-1zM71 345h1v1h-1zM71 346h1v1h-1zM71 347h1v1h-1zM71 348h1v1h-1zM71 349h1v1h-1zM71 350h1v1h-1zM71 351h1v1h-1zM71 353h1v1h-1zM71 354h1v1h-1zM71 355h1v1h-1zM71 359h1v1h-1zM71 360h1v1h-1zM71 361h1v1h-1zM72 284h1v1h-1zM72 285h1v1h-1zM72 287h1v1h-1zM72 289h1v1h-1zM72 291h1v1h-1zM72 293h1v1h-1zM72 294h1v1h-1zM72 295h1v1h-1zM72 298h1v1h-1zM72 299h1v1h-1zM72 300h1v1h-1zM72 301h1v1h-1zM72 302h1v1h-1zM72 303h1v1h-1zM72 304h1v1h-1zM72 305h1v1h-1zM72 306h1v1h-1zM72 307h1v1h-1zM72 308h1v1h-1zM72 309h1v1h-1zM72 310h1v1h-1zM72 311h1v1h-1zM72 312h1v1h-1zM72 313h1v1h-1zM72 314h1v1h-1zM72 315h1v1h-1zM72 316h1v1h-1zM72 317h1v1h-1zM72 318h1v1h-1zM72 319h1v1h-1zM72 320h1v1h-1zM72 321h1v1h-1zM72 323h1v1h-1zM72 324h1v1h-1zM72 325h1v1h-1zM72 326h1v1h-1zM72 327h1v1h-1zM72 328h1v1h-1zM72 329h1v1h-1zM72 330h1v1h-1zM72 331h1v1h-1zM72 332h1v1h-1zM72 333h1v1h-1zM72 334h1v1h-1zM72 335h1v1h-1zM72 336h1v1h-1zM72 337h1v1h-1zM72 338h1v1h-1zM72 339h1v1h-1zM72 340h1v1h-1zM72 341h1v1h-1zM72 342h1v1h-1zM72 343h1v1h-1zM72 344h1v1h-1zM72 345h1v1h-1zM72 346h1v1h-1zM72 347h1v1h-1zM72 348h1v1h-1zM72 349h1v1h-1zM72 350h1v1h-1zM72 351h1v1h-1zM72 352h1v1h-1zM72 353h1v1h-1zM72 354h1v1h-1zM72 356h1v1h-1zM72 357h1v1h-1zM72 360h1v1h-1zM72 362h1v1h-1zM73 283h1v1h-1zM73 284h1v1h-1zM73 286h1v1h-1zM73 289h1v1h-1zM73 290h1v1h-1zM73 291h1v1h-1zM73 292h1v1h-1zM73 293h1v1h-1zM73 294h1v1h-1zM73 296h1v1h-1zM73 298h1v1h-1zM73 299h1v1h-1zM73 300h1v1h-1zM73 301h1v1h-1zM73 302h1v1h-1zM73 303h1v1h-1zM73 304h1v1h-1zM73 305h1v1h-1zM73 306h1v1h-1zM73 307h1v1h-1zM73 308h1v1h-1zM73 309h1v1h-1zM73 310h1v1h-1zM73 311h1v1h-1zM73 312h1v1h-1zM73 313h1v1h-1zM73 314h1v1h-1zM73 315h1v1h-1zM73 317h1v1h-1zM73 318h1v1h-1zM73 319h1v1h-1zM73 320h1v1h-1zM73 322h1v1h-1zM73 323h1v1h-1zM73 324h1v1h-1zM73 325h1v1h-1zM73 326h1v1h-1zM73 328h1v1h-1zM73 329h1v1h-1zM73 330h1v1h-1zM73 331h1v1h-1zM73 332h1v1h-1zM73 333h1v1h-1zM73 334h1v1h-1zM73 335h1v1h-1zM73 336h1v1h-1zM73 337h1v1h-1zM73 338h1v1h-1zM73 339h1v1h-1zM73 341h1v1h-1zM73 342h1v1h-1zM73 343h1v1h-1zM73 344h1v1h-1zM73 345h1v1h-1zM73 346h1v1h-1zM73 347h1v1h-1zM73 348h1v1h-1zM73 349h1v1h-1zM73 350h1v1h-1zM73 351h1v1h-1zM73 353h1v1h-1zM73 354h1v1h-1zM73 355h1v1h-1zM73 356h1v1h-1zM73 357h1v1h-1zM73 361h1v1h-1zM74 290h1v1h-1zM74 291h1v1h-1zM74 294h1v1h-1zM74 296h1v1h-1zM74 297h1v1h-1zM74 298h1v1h-1zM74 299h1v1h-1zM74 300h1v1h-1zM74 302h1v1h-1zM74 303h1v1h-1zM74 304h1v1h-1zM74 305h1v1h-1zM74 306h1v1h-1zM74 307h1v1h-1zM74 308h1v1h-1zM74 309h1v1h-1zM74 310h1v1h-1zM74 311h1v1h-1zM74 312h1v1h-1zM74 313h1v1h-1zM74 314h1v1h-1zM74 315h1v1h-1zM74 316h1v1h-1zM74 317h1v1h-1zM74 318h1v1h-1zM74 320h1v1h-1zM74 321h1v1h-1zM74 322h1v1h-1zM74 323h1v1h-1zM74 324h1v1h-1zM74 325h1v1h-1zM74 326h1v1h-1zM74 327h1v1h-1zM74 328h1v1h-1zM74 329h1v1h-1zM74 330h1v1h-1zM74 331h1v1h-1zM74 332h1v1h-1zM74 333h1v1h-1zM74 334h1v1h-1zM74 335h1v1h-1zM74 336h1v1h-1zM74 337h1v1h-1zM74 338h1v1h-1zM74 339h1v1h-1zM74 340h1v1h-1zM74 341h1v1h-1zM74 342h1v1h-1zM74 343h1v1h-1zM74 344h1v1h-1zM74 345h1v1h-1zM74 346h1v1h-1zM74 347h1v1h-1zM74 348h1v1h-1zM74 349h1v1h-1zM74 350h1v1h-1zM74 352h1v1h-1zM74 355h1v1h-1zM74 357h1v1h-1zM74 360h1v1h-1zM74 377h1v1h-1zM75 287h1v1h-1zM75 294h1v1h-1zM75 296h1v1h-1zM75 297h1v1h-1zM75 299h1v1h-1zM75 300h1v1h-1zM75 301h1v1h-1zM75 302h1v1h-1zM75 303h1v1h-1zM75 304h1v1h-1zM75 305h1v1h-1zM75 306h1v1h-1zM75 307h1v1h-1zM75 308h1v1h-1zM75 309h1v1h-1zM75 310h1v1h-1zM75 311h1v1h-1zM75 312h1v1h-1zM75 313h1v1h-1zM75 314h1v1h-1zM75 315h1v1h-1zM75 316h1v1h-1zM75 317h1v1h-1zM75 318h1v1h-1zM75 319h1v1h-1zM75 320h1v1h-1zM75 321h1v1h-1zM75 322h1v1h-1zM75 323h1v1h-1zM75 325h1v1h-1zM75 329h1v1h-1zM75 330h1v1h-1zM75 331h1v1h-1zM75 332h1v1h-1zM75 333h1v1h-1zM75 334h1v1h-1zM75 335h1v1h-1zM75 336h1v1h-1zM75 337h1v1h-1zM75 338h1v1h-1zM75 339h1v1h-1zM75 340h1v1h-1zM75 341h1v1h-1zM75 342h1v1h-1zM75 343h1v1h-1zM75 344h1v1h-1zM75 345h1v1h-1zM75 346h1v1h-1zM75 348h1v1h-1zM75 349h1v1h-1zM75 350h1v1h-1zM75 353h1v1h-1zM75 354h1v1h-1zM75 355h1v1h-1zM75 356h1v1h-1zM75 361h1v1h-1zM75 362h1v1h-1zM76 288h1v1h-1zM76 291h1v1h-1zM76 293h1v1h-1zM76 294h1v1h-1zM76 296h1v1h-1zM76 297h1v1h-1zM76 298h1v1h-1zM76 299h1v1h-1zM76 300h1v1h-1zM76 301h1v1h-1zM76 302h1v1h-1zM76 303h1v1h-1zM76 304h1v1h-1zM76 305h1v1h-1zM76 306h1v1h-1zM76 307h1v1h-1zM76 308h1v1h-1zM76 309h1v1h-1zM76 310h1v1h-1zM76 311h1v1h-1zM76 312h1v1h-1zM76 313h1v1h-1zM76 314h1v1h-1zM76 316h1v1h-1zM76 317h1v1h-1zM76 319h1v1h-1zM76 320h1v1h-1zM76 321h1v1h-1zM76 322h1v1h-1zM76 323h1v1h-1zM76 324h1v1h-1zM76 325h1v1h-1zM76 326h1v1h-1zM76 327h1v1h-1zM76 329h1v1h-1zM76 332h1v1h-1zM76 333h1v1h-1zM76 334h1v1h-1zM76 335h1v1h-1zM76 336h1v1h-1zM76 337h1v1h-1zM76 338h1v1h-1zM76 339h1v1h-1zM76 340h1v1h-1zM76 341h1v1h-1zM76 342h1v1h-1zM76 343h1v1h-1zM76 345h1v1h-1zM76 347h1v1h-1zM76 348h1v1h-1zM76 350h1v1h-1zM76 355h1v1h-1zM76 356h1v1h-1zM76 357h1v1h-1zM76 364h1v1h-1zM77 283h1v1h-1zM77 286h1v1h-1zM77 288h1v1h-1zM77 294h1v1h-1zM77 298h1v1h-1zM77 299h1v1h-1zM77 300h1v1h-1zM77 301h1v1h-1zM77 302h1v1h-1zM77 303h1v1h-1zM77 304h1v1h-1zM77 305h1v1h-1zM77 306h1v1h-1zM77 307h1v1h-1zM77 308h1v1h-1zM77 309h1v1h-1zM77 310h1v1h-1zM77 311h1v1h-1zM77 312h1v1h-1zM77 313h1v1h-1zM77 314h1v1h-1zM77 315h1v1h-1zM77 316h1v1h-1zM77 317h1v1h-1zM77 318h1v1h-1zM77 319h1v1h-1zM77 321h1v1h-1zM77 322h1v1h-1zM77 324h1v1h-1zM77 326h1v1h-1zM77 329h1v1h-1zM77 330h1v1h-1zM77 331h1v1h-1zM77 332h1v1h-1zM77 333h1v1h-1zM77 334h1v1h-1zM77 335h1v1h-1zM77 336h1v1h-1zM77 339h1v1h-1zM77 340h1v1h-1zM77 341h1v1h-1zM77 343h1v1h-1zM77 344h1v1h-1zM77 345h1v1h-1zM77 346h1v1h-1zM77 347h1v1h-1zM77 348h1v1h-1zM77 351h1v1h-1zM77 353h1v1h-1zM77 354h1v1h-1zM77 355h1v1h-1zM77 359h1v1h-1zM77 360h1v1h-1zM78 291h1v1h-1zM78 295h1v1h-1zM78 296h1v1h-1zM78 297h1v1h-1zM78 298h1v1h-1zM78 299h1v1h-1zM78 300h1v1h-1zM78 301h1v1h-1zM78 303h1v1h-1zM78 304h1v1h-1zM78 305h1v1h-1zM78 306h1v1h-1zM78 307h1v1h-1zM78 308h1v1h-1zM78 309h1v1h-1zM78 310h1v1h-1zM78 311h1v1h-1zM78 312h1v1h-1zM78 313h1v1h-1zM78 314h1v1h-1zM78 315h1v1h-1zM78 316h1v1h-1zM78 317h1v1h-1zM78 318h1v1h-1zM78 321h1v1h-1zM78 323h1v1h-1zM78 325h1v1h-1zM78 327h1v1h-1zM78 328h1v1h-1zM78 329h1v1h-1zM78 331h1v1h-1zM78 332h1v1h-1zM78 334h1v1h-1zM78 335h1v1h-1zM78 336h1v1h-1zM78 337h1v1h-1zM78 338h1v1h-1zM78 339h1v1h-1zM78 340h1v1h-1zM78 341h1v1h-1zM78 342h1v1h-1zM78 344h1v1h-1zM78 345h1v1h-1zM78 346h1v1h-1zM78 347h1v1h-1zM78 348h1v1h-1zM78 349h1v1h-1zM78 352h1v1h-1zM78 355h1v1h-1zM78 359h1v1h-1zM79 285h1v1h-1zM79 288h1v1h-1zM79 290h1v1h-1zM79 295h1v1h-1zM79 297h1v1h-1zM79 298h1v1h-1zM79 301h1v1h-1zM79 302h1v1h-1zM79 303h1v1h-1zM79 305h1v1h-1zM79 308h1v1h-1zM79 309h1v1h-1zM79 312h1v1h-1zM79 313h1v1h-1zM79 314h1v1h-1zM79 316h1v1h-1zM79 319h1v1h-1zM79 321h1v1h-1zM79 323h1v1h-1zM79 324h1v1h-1zM79 327h1v1h-1zM79 329h1v1h-1zM79 330h1v1h-1zM79 333h1v1h-1zM79 334h1v1h-1zM79 335h1v1h-1zM79 337h1v1h-1zM79 339h1v1h-1zM79 340h1v1h-1zM79 341h1v1h-1zM79 343h1v1h-1zM79 344h1v1h-1zM79 346h1v1h-1zM79 347h1v1h-1zM79 348h1v1h-1zM79 351h1v1h-1zM79 352h1v1h-1zM79 355h1v1h-1zM79 356h1v1h-1zM79 359h1v1h-1zM79 361h1v1h-1zM80 293h1v1h-1zM80 295h1v1h-1zM80 296h1v1h-1zM80 299h1v1h-1zM80 301h1v1h-1zM80 302h1v1h-1zM80 303h1v1h-1zM80 304h1v1h-1zM80 305h1v1h-1zM80 306h1v1h-1zM80 307h1v1h-1zM80 308h1v1h-1zM80 310h1v1h-1zM80 311h1v1h-1zM80 315h1v1h-1zM80 318h1v1h-1zM80 319h1v1h-1zM80 321h1v1h-1zM80 322h1v1h-1zM80 323h1v1h-1zM80 333h1v1h-1zM80 335h1v1h-1zM80 336h1v1h-1zM80 338h1v1h-1zM80 339h1v1h-1zM80 340h1v1h-1zM80 341h1v1h-1zM80 342h1v1h-1zM80 345h1v1h-1zM80 346h1v1h-1zM80 350h1v1h-1zM80 355h1v1h-1zM80 358h1v1h-1zM80 361h1v1h-1zM80 363h1v1h-1zM81 298h1v1h-1zM81 300h1v1h-1zM81 303h1v1h-1zM81 306h1v1h-1zM81 309h1v1h-1zM81 310h1v1h-1zM81 311h1v1h-1zM81 315h1v1h-1zM81 316h1v1h-1zM81 321h1v1h-1zM81 327h1v1h-1zM81 328h1v1h-1zM81 331h1v1h-1zM81 333h1v1h-1zM81 334h1v1h-1zM81 339h1v1h-1zM81 342h1v1h-1zM81 345h1v1h-1zM81 347h1v1h-1zM81 349h1v1h-1zM81 351h1v1h-1zM81 352h1v1h-1zM81 355h1v1h-1zM81 358h1v1h-1zM82 294h1v1h-1zM82 295h1v1h-1zM82 297h1v1h-1zM82 301h1v1h-1zM82 303h1v1h-1zM82 308h1v1h-1zM82 309h1v1h-1zM82 318h1v1h-1zM82 320h1v1h-1zM82 323h1v1h-1zM82 328h1v1h-1zM82 332h1v1h-1zM82 336h1v1h-1zM82 337h1v1h-1zM82 340h1v1h-1zM82 344h1v1h-1zM82 346h1v1h-1zM82 348h1v1h-1zM82 349h1v1h-1zM83 294h1v1h-1zM83 296h1v1h-1zM83 302h1v1h-1zM83 303h1v1h-1zM83 304h1v1h-1zM83 305h1v1h-1zM83 306h1v1h-1zM83 307h1v1h-1zM83 316h1v1h-1zM83 319h1v1h-1zM83 320h1v1h-1zM83 325h1v1h-1zM83 333h1v1h-1zM83 338h1v1h-1zM83 339h1v1h-1zM83 340h1v1h-1zM83 353h1v1h-1zM84 295h1v1h-1zM84 302h1v1h-1zM84 303h1v1h-1zM84 307h1v1h-1zM84 317h1v1h-1zM84 318h1v1h-1zM84 319h1v1h-1zM84 326h1v1h-1zM84 349h1v1h-1zM84 351h1v1h-1zM85 301h1v1h-1zM85 309h1v1h-1zM85 310h1v1h-1zM85 315h1v1h-1zM85 321h1v1h-1zM85 322h1v1h-1zM85 337h1v1h-1zM85 344h1v1h-1zM85 346h1v1h-1zM86 301h1v1h-1zM86 308h1v1h-1zM86 314h1v1h-1zM86 335h1v1h-1zM87 330h1v1h-1zM88 313h1v1h-1zM89 308h1v1h-1zM89 328h1v1h-1zM92 316h1v1h-1zM93 316h1v1h-1zM94 324h1v1h-1zM108 315h1v1h-1zM121 302h1v1h-1z" fill="#111"/>
<line x1="55.00" y1="327.60" x2="82.00" y2="327.60" stroke="#e4e4e4" stroke-width="1.2" />
<rect x="40.00" y="249.20" width="140.50" height="131.80" fill="none" stroke="#333" stroke-width="1.3"/>
<line x1="40.00" y1="381.00" x2="40.00" y2="384.00" stroke="#333" stroke-width="0.8" />
<line x1="37.00" y1="381.00" x2="40.00" y2="381.00" stroke="#333" stroke-width="0.8" />
<line x1="50.57" y1="381.00" x2="50.57" y2="382.60" stroke="#333" stroke-width="0.8" />
<line x1="38.40" y1="371.08" x2="40.00" y2="371.08" stroke="#333" stroke-width="0.8" />
<line x1="56.76" y1="381.00" x2="56.76" y2="382.60" stroke="#333" stroke-width="0.8" />
<line x1="38.40" y1="365.28" x2="40.00" y2="365.28" stroke="#333" stroke-width="0.8" />
<line x1="61.15" y1="381.00" x2="61.15" y2="382.60" stroke="#333" stroke-width="0.8" />
<line x1="38.40" y1="361.16" x2="40.00" y2="361.16" stroke="#333" stroke-width="0.8" />
<line x1="64.55" y1="381.00" x2="64.55" y2="382.60" stroke="#333" stroke-width="0.8" />
<line x1="38.40" y1="357.97" x2="40.00" y2="357.97" stroke="#333" stroke-width="0.8" />
<line x1="67.33" y1="381.00" x2="67.33" y2="382.60" stroke="#333" stroke-width="0.8" />
<line x1="38.40" y1="355.36" x2="40.00" y2="355.36" stroke="#333" stroke-width="0.8" />
<line x1="69.68" y1="381.00" x2="69.68" y2="382.60" stroke="#333" stroke-width="0.8" />
<line x1="38.40" y1="353.15" x2="40.00" y2="353.15" stroke="#333" stroke-width="0.8" />
<line x1="71.72" y1="381.00" x2="71.72" y2="382.60" stroke="#333" stroke-width="0.8" />
<line x1="38.40" y1="351.24" x2="40.00" y2="351.24" stroke="#333" stroke-width="0.8" />
<line x1="73.52" y1="381.00" x2="73.52" y2="382.60" stroke="#333" stroke-width="0.8" />
<line x1="38.40" y1="349.56" x2="40.00" y2="349.56" stroke="#333" stroke-width="0.8" />
<line x1="75.12" y1="381.00" x2="75.12" y2="384.00" stroke="#333" stroke-width="0.8" />
<line x1="37.00" y1="348.05" x2="40.00" y2="348.05" stroke="#333" stroke-width="0.8" />
<line x1="85.70" y1="381.00" x2="85.70" y2="382.60" stroke="#333" stroke-width="0.8" />
<line x1="38.40" y1="338.13" x2="40.00" y2="338.13" stroke="#333" stroke-width="0.8" />
<line x1="91.88" y1="381.00" x2="91.88" y2="382.60" stroke="#333" stroke-width="0.8" />
<line x1="38.40" y1="332.33" x2="40.00" y2="332.33" stroke="#333" stroke-width="0.8" />
<line x1="96.27" y1="381.00" x2="96.27" y2="382.60" stroke="#333" stroke-width="0.8" />
<line x1="38.40" y1="328.21" x2="40.00" y2="328.21" stroke="#333" stroke-width="0.8" />
<line x1="99.68" y1="381.00" x2="99.68" y2="382.60" stroke="#333" stroke-width="0.8" />
<line x1="38.40" y1="325.02" x2="40.00" y2="325.02" stroke="#333" stroke-width="0.8" />
<line x1="102.46" y1="381.00" x2="102.46" y2="382.60" stroke="#333" stroke-width="0.8" />
<line x1="38.40" y1="322.41" x2="40.00" y2="322.41" stroke="#333" stroke-width="0.8" />
<line x1="104.81" y1="381.00" x2="104.81" y2="382.60" stroke="#333" stroke-width="0.8" />
<line x1="38.40" y1="320.20" x2="40.00" y2="320.20" stroke="#333" stroke-width="0.8" />
<line x1="106.85" y1="381.00" x2="106.85" y2="382.60" stroke="#333" stroke-width="0.8" />
<line x1="38.40" y1="318.29" x2="40.00" y2="318.29" stroke="#333" stroke-width="0.8" />
<line x1="108.64" y1="381.00" x2="108.64" y2="382.60" stroke="#333" stroke-width="0.8" />
<line x1="38.40" y1="316.61" x2="40.00" y2="316.61" stroke="#333" stroke-width="0.8" />
<line x1="110.25" y1="381.00" x2="110.25" y2="384.00" stroke="#333" stroke-width="0.8" />
<line x1="37.00" y1="315.10" x2="40.00" y2="315.10" stroke="#333" stroke-width="0.8" />
<line x1="120.82" y1="381.00" x2="120.82" y2="382.60" stroke="#333" stroke-width="0.8" />
<line x1="38.40" y1="305.18" x2="40.00" y2="305.18" stroke="#333" stroke-width="0.8" />
<line x1="127.01" y1="381.00" x2="127.01" y2="382.60" stroke="#333" stroke-width="0.8" />
<line x1="38.40" y1="299.38" x2="40.00" y2="299.38" stroke="#333" stroke-width="0.8" />
<line x1="131.40" y1="381.00" x2="131.40" y2="382.60" stroke="#333" stroke-width="0.8" />
<line x1="38.40" y1="295.26" x2="40.00" y2="295.26" stroke="#333" stroke-width="0.8" />
<line x1="134.80" y1="381.00" x2="134.80" y2="382.60" stroke="#333" stroke-width="0.8" />
<line x1="38.40" y1="292.07" x2="40.00" y2="292.07" stroke="#333" stroke-width="0.8" />
<line x1="137.58" y1="381.00" x2="137.58" y2="382.60" stroke="#333" stroke-width="0.8" />
<line x1="38.40" y1="289.46" x2="40.00" y2="289.46" stroke="#333" stroke-width="0.8" />
<line x1="139.93" y1="381.00" x2="139.93" y2="382.60" stroke="#333" stroke-width="0.8" />
<line x1="38.40" y1="287.25" x2="40.00" y2="287.25" stroke="#333" stroke-width="0.8" />
<line x1="141.97" y1="381.00" x2="141.97" y2="382.60" stroke="#333" stroke-width="0.8" />
<line x1="38.40" y1="285.34" x2="40.00" y2="285.34" stroke="#333" stroke-width="0.8" />
<line x1="143.77" y1="381.00" x2="143.77" y2="382.60" stroke="#333" stroke-width="0.8" />
<line x1="38.40" y1="283.66" x2="40.00" y2="283.66" stroke="#333" stroke-width="0.8" />
<line x1="145.38" y1="381.00" x2="145.38" y2="384.00" stroke="#333" stroke-width="0.8" />
<line x1="37.00" y1="282.15" x2="40.00" y2="282.15" stroke="#333" stroke-width="0.8" />
<line x1="155.95" y1="381.00" x2="155.95" y2="382.60" stroke="#333" stroke-width="0.8" />
<line x1="38.40" y1="272.23" x2="40.00" y2="272.23" stroke="#333" stroke-width="0.8" />
<line x1="162.13" y1="381.00" x2="162.13" y2="382.60" stroke="#333" stroke-width="0.8" />
<line x1="38.40" y1="266.43" x2="40.00" y2="266.43" stroke="#333" stroke-width="0.8" />
<line x1="166.52" y1="381.00" x2="166.52" y2="382.60" stroke="#333" stroke-width="0.8" />
<line x1="38.40" y1="262.31" x2="40.00" y2="262.31" stroke="#333" stroke-width="0.8" />
<line x1="169.93" y1="381.00" x2="169.93" y2="382.60" stroke="#333" stroke-width="0.8" />
<line x1="38.40" y1="259.12" x2="40.00" y2="259.12" stroke="#333" stroke-width="0.8" />
<line x1="172.71" y1="381.00" x2="172.71" y2="382.60" stroke="#333" stroke-width="0.8" />
<line x1="38.40" y1="256.51" x2="40.00" y2="256.51" stroke="#333" stroke-width="0.8" />
<line x1="175.06" y1="381.00" x2="175.06" y2="382.60" stroke="#333" stroke-width="0.8" />
<line x1="38.40" y1="254.30" x2="40.00" y2="254.30" stroke="#333" stroke-width="0.8" />
<line x1="177.10" y1="381.00" x2="177.10" y2="382.60" stroke="#333" stroke-width="0.8" />
<line x1="38.40" y1="252.39" x2="40.00" y2="252.39" stroke="#333" stroke-width="0.8" />
<line x1="178.89" y1="381.00" x2="178.89" y2="382.60" stroke="#333" stroke-width="0.8" />
<line x1="38.40" y1="250.71" x2="40.00" y2="250.71" stroke="#333" stroke-width="0.8" />
<line x1="180.50" y1="381.00" x2="180.50" y2="384.00" stroke="#333" stroke-width="0.8" />
<line x1="37.00" y1="249.20" x2="40.00" y2="249.20" stroke="#333" stroke-width="0.8" />
<text x="40.00" y="391.6" font-size="9" fill="#111" stroke="#111" stroke-width="0.15">10<tspan font-size="4.9" dx="0.3" dy="-3">0</tspan></text>
<text transform="translate(36.10,380.40) rotate(-90)" font-size="9" fill="#111" stroke="#111" stroke-width="0.15">10<tspan font-size="4.9" dx="0.3" dy="-3">0</tspan></text>
<text x="75.12" y="391.6" font-size="9" fill="#111" stroke="#111" stroke-width="0.15">10<tspan font-size="4.9" dx="0.3" dy="-3">1</tspan></text>
<text transform="translate(36.10,347.45) rotate(-90)" font-size="9" fill="#111" stroke="#111" stroke-width="0.15">10<tspan font-size="4.9" dx="0.3" dy="-3">1</tspan></text>
<text x="110.25" y="391.6" font-size="9" fill="#111" stroke="#111" stroke-width="0.15">10<tspan font-size="4.9" dx="0.3" dy="-3">2</tspan></text>
<text transform="translate(36.10,314.50) rotate(-90)" font-size="9" fill="#111" stroke="#111" stroke-width="0.15">10<tspan font-size="4.9" dx="0.3" dy="-3">2</tspan></text>
<text x="145.38" y="391.6" font-size="9" fill="#111" stroke="#111" stroke-width="0.15">10<tspan font-size="4.9" dx="0.3" dy="-3">3</tspan></text>
<text transform="translate(36.10,281.55) rotate(-90)" font-size="9" fill="#111" stroke="#111" stroke-width="0.15">10<tspan font-size="4.9" dx="0.3" dy="-3">3</tspan></text>
<text x="180.50" y="391.6" font-size="9" fill="#111" stroke="#111" stroke-width="0.15">10<tspan font-size="4.9" dx="0.3" dy="-3">4</tspan></text>
<text transform="translate(36.10,248.60) rotate(-90)" font-size="9" fill="#111" stroke="#111" stroke-width="0.15">10<tspan font-size="4.9" dx="0.3" dy="-3">4</tspan></text>
<text transform="translate(50.60 266.30)" font-size="13.6" font-weight="bold" >50</text>
<text transform="translate(50.40 379.50)" font-size="13.6" font-weight="bold" >50</text>
<line x1="263.00" y1="249.20" x2="263.00" y2="381.00" stroke="#5a5a5a" stroke-width="1.2" />
<line x1="218.20" y1="327.60" x2="358.70" y2="327.60" stroke="#5a5a5a" stroke-width="1.2" />
<path d="M221 322h1v1h-1zM224 313h1v1h-1zM225 318h1v1h-1zM225 339h1v1h-1zM226 311h1v1h-1zM226 337h1v1h-1zM227 333h1v1h-1zM228 323h1v1h-1zM228 326h1v1h-1zM228 337h1v1h-1zM229 307h1v1h-1zM229 324h1v1h-1zM229 341h1v1h-1zM229 348h1v1h-1zM229 351h1v1h-1zM231 291h1v1h-1zM231 314h1v1h-1zM231 316h1v1h-1zM231 331h1v1h-1zM231 333h1v1h-1zM232 307h1v1h-1zM232 334h1v1h-1zM232 335h1v1h-1zM232 337h1v1h-1zM232 340h1v1h-1zM233 298h1v1h-1zM233 305h1v1h-1zM233 315h1v1h-1zM233 318h1v1h-1zM233 323h1v1h-1zM233 325h1v1h-1zM233 338h1v1h-1zM234 297h1v1h-1zM234 300h1v1h-1zM234 309h1v1h-1zM234 316h1v1h-1zM234 319h1v1h-1zM234 324h1v1h-1zM234 338h1v1h-1zM234 345h1v1h-1zM234 354h1v1h-1zM235 309h1v1h-1zM235 311h1v1h-1zM235 317h1v1h-1zM235 321h1v1h-1zM235 322h1v1h-1zM235 323h1v1h-1zM235 327h1v1h-1zM235 328h1v1h-1zM235 329h1v1h-1zM235 332h1v1h-1zM235 334h1v1h-1zM235 335h1v1h-1zM235 350h1v1h-1zM235 361h1v1h-1zM236 311h1v1h-1zM236 318h1v1h-1zM236 320h1v1h-1zM236 323h1v1h-1zM236 327h1v1h-1zM236 331h1v1h-1zM236 333h1v1h-1zM236 335h1v1h-1zM236 339h1v1h-1zM236 341h1v1h-1zM236 342h1v1h-1zM236 343h1v1h-1zM236 347h1v1h-1zM236 349h1v1h-1zM236 366h1v1h-1zM237 296h1v1h-1zM237 301h1v1h-1zM237 309h1v1h-1zM237 313h1v1h-1zM237 314h1v1h-1zM237 317h1v1h-1zM237 320h1v1h-1zM237 322h1v1h-1zM237 330h1v1h-1zM237 332h1v1h-1zM237 338h1v1h-1zM237 340h1v1h-1zM237 343h1v1h-1zM237 344h1v1h-1zM237 352h1v1h-1zM237 360h1v1h-1zM238 306h1v1h-1zM238 311h1v1h-1zM238 324h1v1h-1zM238 326h1v1h-1zM238 327h1v1h-1zM238 329h1v1h-1zM238 332h1v1h-1zM238 333h1v1h-1zM238 335h1v1h-1zM238 336h1v1h-1zM238 337h1v1h-1zM238 340h1v1h-1zM238 342h1v1h-1zM238 343h1v1h-1zM238 348h1v1h-1zM238 351h1v1h-1zM238 352h1v1h-1zM239 305h1v1h-1zM239 307h1v1h-1zM239 310h1v1h-1zM239 311h1v1h-1zM239 312h1v1h-1zM239 318h1v1h-1zM239 319h1v1h-1zM239 325h1v1h-1zM239 327h1v1h-1zM239 331h1v1h-1zM239 333h1v1h-1zM239 334h1v1h-1zM239 336h1v1h-1zM239 339h1v1h-1zM239 340h1v1h-1zM239 341h1v1h-1zM239 342h1v1h-1zM239 344h1v1h-1zM239 345h1v1h-1zM239 346h1v1h-1zM239 348h1v1h-1zM239 349h1v1h-1zM239 350h1v1h-1zM239 352h1v1h-1zM239 358h1v1h-1zM240 301h1v1h-1zM240 312h1v1h-1zM240 318h1v1h-1zM240 319h1v1h-1zM240 320h1v1h-1zM240 322h1v1h-1zM240 323h1v1h-1zM240 326h1v1h-1zM240 328h1v1h-1zM240 329h1v1h-1zM240 330h1v1h-1zM240 331h1v1h-1zM240 332h1v1h-1zM240 335h1v1h-1zM240 336h1v1h-1zM240 338h1v1h-1zM240 339h1v1h-1zM240 342h1v1h-1zM240 343h1v1h-1zM240 344h1v1h-1zM240 345h1v1h-1zM240 347h1v1h-1zM240 348h1v1h-1zM240 350h1v1h-1zM240 354h1v1h-1zM241 298h1v1h-1zM241 306h1v1h-1zM241 309h1v1h-1zM241 310h1v1h-1zM241 312h1v1h-1zM241 313h1v1h-1zM241 314h1v1h-1zM241 315h1v1h-1zM241 320h1v1h-1zM241 321h1v1h-1zM241 322h1v1h-1zM241 324h1v1h-1zM241 328h1v1h-1zM241 329h1v1h-1zM241 330h1v1h-1zM241 333h1v1h-1zM241 334h1v1h-1zM241 336h1v1h-1zM241 337h1v1h-1zM241 338h1v1h-1zM241 339h1v1h-1zM241 341h1v1h-1zM241 342h1v1h-1zM241 343h1v1h-1zM241 344h1v1h-1zM241 346h1v1h-1zM241 347h1v1h-1zM241 350h1v1h-1zM241 351h1v1h-1zM241 352h1v1h-1zM241 353h1v1h-1zM241 355h1v1h-1zM241 356h1v1h-1zM241 361h1v1h-1zM241 362h1v1h-1zM242 301h1v1h-1zM242 305h1v1h-1zM242 315h1v1h-1zM242 316h1v1h-1zM242 317h1v1h-1zM242 320h1v1h-1zM242 321h1v1h-1zM242 322h1v1h-1zM242 324h1v1h-1zM242 325h1v1h-1zM242 328h1v1h-1zM242 329h1v1h-1zM242 330h1v1h-1zM242 333h1v1h-1zM242 334h1v1h-1zM242 335h1v1h-1zM242 336h1v1h-1zM242 338h1v1h-1zM242 340h1v1h-1zM242 341h1v1h-1zM242 342h1v1h-1zM242 344h1v1h-1zM242 346h1v1h-1zM242 347h1v1h-1zM242 348h1v1h-1zM242 349h1v1h-1zM242 350h1v1h-1zM242 351h1v1h-1zM242 353h1v1h-1zM242 355h1v1h-1zM242 361h1v1h-1zM243 295h1v1h-1zM243 306h1v1h-1zM243 308h1v1h-1zM243 310h1v1h-1zM243 312h1v1h-1zM243 315h1v1h-1zM243 318h1v1h-1zM243 319h1v1h-1zM243 320h1v1h-1zM243 321h1v1h-1zM243 322h1v1h-1zM243 323h1v1h-1zM243 324h1v1h-1zM243 325h1v1h-1zM243 327h1v1h-1zM243 330h1v1h-1zM243 331h1v1h-1zM243 332h1v1h-1zM243 334h1v1h-1zM243 335h1v1h-1zM243 336h1v1h-1zM243 337h1v1h-1zM243 338h1v1h-1zM243 339h1v1h-1zM243 340h1v1h-1zM243 341h1v1h-1zM243 342h1v1h-1zM243 343h1v1h-1zM243 344h1v1h-1zM243 345h1v1h-1zM243 346h1v1h-1zM243 347h1v1h-1zM243 348h1v1h-1zM243 349h1v1h-1zM243 350h1v1h-1zM243 351h1v1h-1zM243 352h1v1h-1zM243 353h1v1h-1zM243 354h1v1h-1zM243 364h1v1h-1zM244 306h1v1h-1zM244 307h1v1h-1zM244 309h1v1h-1zM244 311h1v1h-1zM244 313h1v1h-1zM244 315h1v1h-1zM244 317h1v1h-1zM244 318h1v1h-1zM244 319h1v1h-1zM244 320h1v1h-1zM244 321h1v1h-1zM244 322h1v1h-1zM244 323h1v1h-1zM244 324h1v1h-1zM244 325h1v1h-1zM244 327h1v1h-1zM244 328h1v1h-1zM244 329h1v1h-1zM244 331h1v1h-1zM244 332h1v1h-1zM244 333h1v1h-1zM244 334h1v1h-1zM244 337h1v1h-1zM244 338h1v1h-1zM244 339h1v1h-1zM244 340h1v1h-1zM244 341h1v1h-1zM244 342h1v1h-1zM244 344h1v1h-1zM244 345h1v1h-1zM244 347h1v1h-1zM244 348h1v1h-1zM244 349h1v1h-1zM244 350h1v1h-1zM244 352h1v1h-1zM244 355h1v1h-1zM244 357h1v1h-1zM244 358h1v1h-1zM244 359h1v1h-1zM244 363h1v1h-1zM245 306h1v1h-1zM245 313h1v1h-1zM245 317h1v1h-1zM245 319h1v1h-1zM245 322h1v1h-1zM245 324h1v1h-1zM245 325h1v1h-1zM245 327h1v1h-1zM245 328h1v1h-1zM245 329h1v1h-1zM245 330h1v1h-1zM245 331h1v1h-1zM245 332h1v1h-1zM245 333h1v1h-1zM245 334h1v1h-1zM245 335h1v1h-1zM245 337h1v1h-1zM245 338h1v1h-1zM245 339h1v1h-1zM245 340h1v1h-1zM245 341h1v1h-1zM245 342h1v1h-1zM245 343h1v1h-1zM245 346h1v1h-1zM245 347h1v1h-1zM245 348h1v1h-1zM245 349h1v1h-1zM245 350h1v1h-1zM245 351h1v1h-1zM245 356h1v1h-1zM245 357h1v1h-1zM245 359h1v1h-1zM246 310h1v1h-1zM246 312h1v1h-1zM246 313h1v1h-1zM246 314h1v1h-1zM246 315h1v1h-1zM246 317h1v1h-1zM246 319h1v1h-1zM246 320h1v1h-1zM246 321h1v1h-1zM246 322h1v1h-1zM246 324h1v1h-1zM246 325h1v1h-1zM246 327h1v1h-1zM246 328h1v1h-1zM246 329h1v1h-1zM246 330h1v1h-1zM246 332h1v1h-1zM246 333h1v1h-1zM246 334h1v1h-1zM246 335h1v1h-1zM246 337h1v1h-1zM246 339h1v1h-1zM246 340h1v1h-1zM246 341h1v1h-1zM246 342h1v1h-1zM246 343h1v1h-1zM246 344h1v1h-1zM246 345h1v1h-1zM246 346h1v1h-1zM246 347h1v1h-1zM246 348h1v1h-1zM246 349h1v1h-1zM246 350h1v1h-1zM246 351h1v1h-1zM246 354h1v1h-1zM246 355h1v1h-1zM246 356h1v1h-1zM246 358h1v1h-1zM246 359h1v1h-1zM246 361h1v1h-1zM246 363h1v1h-1zM246 365h1v1h-1zM247 296h1v1h-1zM247 302h1v1h-1zM247 305h1v1h-1zM247 307h1v1h-1zM247 308h1v1h-1zM247 309h1v1h-1zM247 312h1v1h-1zM247 313h1v1h-1zM247 314h1v1h-1zM247 315h1v1h-1zM247 316h1v1h-1zM247 317h1v1h-1zM247 320h1v1h-1zM247 321h1v1h-1zM247 322h1v1h-1zM247 323h1v1h-1zM247 325h1v1h-1zM247 326h1v1h-1zM247 327h1v1h-1zM247 328h1v1h-1zM247 331h1v1h-1zM247 332h1v1h-1zM247 333h1v1h-1zM247 334h1v1h-1zM247 335h1v1h-1zM247 336h1v1h-1zM247 337h1v1h-1zM247 338h1v1h-1zM247 340h1v1h-1zM247 341h1v1h-1zM247 342h1v1h-1zM247 343h1v1h-1zM247 344h1v1h-1zM247 346h1v1h-1zM247 347h1v1h-1zM247 348h1v1h-1zM247 349h1v1h-1zM247 350h1v1h-1zM247 351h1v1h-1zM247 352h1v1h-1zM247 353h1v1h-1zM247 354h1v1h-1zM247 358h1v1h-1zM247 362h1v1h-1zM247 365h1v1h-1zM248 293h1v1h-1zM248 297h1v1h-1zM248 304h1v1h-1zM248 307h1v1h-1zM248 309h1v1h-1zM248 314h1v1h-1zM248 315h1v1h-1zM248 317h1v1h-1zM248 318h1v1h-1zM248 319h1v1h-1zM248 321h1v1h-1zM248 323h1v1h-1zM248 324h1v1h-1zM248 325h1v1h-1zM248 326h1v1h-1zM248 327h1v1h-1zM248 329h1v1h-1zM248 331h1v1h-1zM248 332h1v1h-1zM248 333h1v1h-1zM248 334h1v1h-1zM248 335h1v1h-1zM248 337h1v1h-1zM248 338h1v1h-1zM248 339h1v1h-1zM248 340h1v1h-1zM248 341h1v1h-1zM248 342h1v1h-1zM248 343h1v1h-1zM248 345h1v1h-1zM248 346h1v1h-1zM248 347h1v1h-1zM248 348h1v1h-1zM248 349h1v1h-1zM248 350h1v1h-1zM248 351h1v1h-1zM248 352h1v1h-1zM248 353h1v1h-1zM248 354h1v1h-1zM248 355h1v1h-1zM248 358h1v1h-1zM248 359h1v1h-1zM248 361h1v1h-1zM248 362h1v1h-1zM249 300h1v1h-1zM249 302h1v1h-1zM249 305h1v1h-1zM249 306h1v1h-1zM249 308h1v1h-1zM249 311h1v1h-1zM249 312h1v1h-1zM249 314h1v1h-1zM249 315h1v1h-1zM249 316h1v1h-1zM249 318h1v1h-1zM249 319h1v1h-1zM249 320h1v1h-1zM249 322h1v1h-1zM249 323h1v1h-1zM249 324h1v1h-1zM249 325h1v1h-1zM249 326h1v1h-1zM249 327h1v1h-1zM249 328h1v1h-1zM249 330h1v1h-1zM249 331h1v1h-1zM249 332h1v1h-1zM249 333h1v1h-1zM249 334h1v1h-1zM249 335h1v1h-1zM249 336h1v1h-1zM249 337h1v1h-1zM249 338h1v1h-1zM249 339h1v1h-1zM249 340h1v1h-1zM249 341h1v1h-1zM249 342h1v1h-1zM249 344h1v1h-1zM249 345h1v1h-1zM249 346h1v1h-1zM249 347h1v1h-1zM249 348h1v1h-1zM249 349h1v1h-1zM249 350h1v1h-1zM249 351h1v1h-1zM249 352h1v1h-1zM249 353h1v1h-1zM249 354h1v1h-1zM249 355h1v1h-1zM249 357h1v1h-1zM249 358h1v1h-1zM249 359h1v1h-1zM249 363h1v1h-1zM250 302h1v1h-1zM250 303h1v1h-1zM250 305h1v1h-1zM250 310h1v1h-1zM250 313h1v1h-1zM250 314h1v1h-1zM250 315h1v1h-1zM250 316h1v1h-1zM250 317h1v1h-1zM250 318h1v1h-1zM250 319h1v1h-1zM250 320h1v1h-1zM250 321h1v1h-1zM250 322h1v1h-1zM250 323h1v1h-1zM250 324h1v1h-1zM250 326h1v1h-1zM250 327h1v1h-1zM250 328h1v1h-1zM250 329h1v1h-1zM250 332h1v1h-1zM250 333h1v1h-1zM250 334h1v1h-1zM250 335h1v1h-1zM250 336h1v1h-1zM250 338h1v1h-1zM250 339h1v1h-1zM250 340h1v1h-1zM250 341h1v1h-1zM250 342h1v1h-1zM250 343h1v1h-1zM250 345h1v1h-1zM250 346h1v1h-1zM250 347h1v1h-1zM250 348h1v1h-1zM250 349h1v1h-1zM250 350h1v1h-1zM250 351h1v1h-1zM250 353h1v1h-1zM250 354h1v1h-1zM250 358h1v1h-1zM250 363h1v1h-1zM250 364h1v1h-1zM251 300h1v1h-1zM251 303h1v1h-1zM251 308h1v1h-1zM251 311h1v1h-1zM251 312h1v1h-1zM251 313h1v1h-1zM251 314h1v1h-1zM251 315h1v1h-1zM251 316h1v1h-1zM251 317h1v1h-1zM251 318h1v1h-1zM251 320h1v1h-1zM251 321h1v1h-1zM251 322h1v1h-1zM251 323h1v1h-1zM251 324h1v1h-1zM251 326h1v1h-1zM251 328h1v1h-1zM251 329h1v1h-1zM251 330h1v1h-1zM251 331h1v1h-1zM251 333h1v1h-1zM251 334h1v1h-1zM251 335h1v1h-1zM251 337h1v1h-1zM251 338h1v1h-1zM251 339h1v1h-1zM251 340h1v1h-1zM251 341h1v1h-1zM251 342h1v1h-1zM251 343h1v1h-1zM251 345h1v1h-1zM251 346h1v1h-1zM251 347h1v1h-1zM251 348h1v1h-1zM251 349h1v1h-1zM251 350h1v1h-1zM251 351h1v1h-1zM251 352h1v1h-1zM251 353h1v1h-1zM251 354h1v1h-1zM251 355h1v1h-1zM251 356h1v1h-1zM251 357h1v1h-1zM251 358h1v1h-1zM251 359h1v1h-1zM252 303h1v1h-1zM252 304h1v1h-1zM252 307h1v1h-1zM252 308h1v1h-1zM252 310h1v1h-1zM252 316h1v1h-1zM252 317h1v1h-1zM252 318h1v1h-1zM252 319h1v1h-1zM252 320h1v1h-1zM252 321h1v1h-1zM252 325h1v1h-1zM252 326h1v1h-1zM252 328h1v1h-1zM252 330h1v1h-1zM252 331h1v1h-1zM252 332h1v1h-1zM252 333h1v1h-1zM252 335h1v1h-1zM252 336h1v1h-1zM252 337h1v1h-1zM252 338h1v1h-1zM252 339h1v1h-1zM252 340h1v1h-1zM252 341h1v1h-1zM252 342h1v1h-1zM252 343h1v1h-1zM252 344h1v1h-1zM252 345h1v1h-1zM252 346h1v1h-1zM252 347h1v1h-1zM252 348h1v1h-1zM252 349h1v1h-1zM252 350h1v1h-1zM252 351h1v1h-1zM252 352h1v1h-1zM252 353h1v1h-1zM252 354h1v1h-1zM252 355h1v1h-1zM252 358h1v1h-1zM252 360h1v1h-1zM252 361h1v1h-1zM253 297h1v1h-1zM253 298h1v1h-1zM253 308h1v1h-1zM253 309h1v1h-1zM253 310h1v1h-1zM253 314h1v1h-1zM253 315h1v1h-1zM253 316h1v1h-1zM253 317h1v1h-1zM253 319h1v1h-1zM253 320h1v1h-1zM253 321h1v1h-1zM253 326h1v1h-1zM253 327h1v1h-1zM253 328h1v1h-1zM253 330h1v1h-1zM253 331h1v1h-1zM253 332h1v1h-1zM253 333h1v1h-1zM253 334h1v1h-1zM253 335h1v1h-1zM253 337h1v1h-1zM253 338h1v1h-1zM253 341h1v1h-1zM253 342h1v1h-1zM253 343h1v1h-1zM253 345h1v1h-1zM253 346h1v1h-1zM253 347h1v1h-1zM253 348h1v1h-1zM253 349h1v1h-1zM253 350h1v1h-1zM253 351h1v1h-1zM253 352h1v1h-1zM253 356h1v1h-1zM253 358h1v1h-1zM253 359h1v1h-1zM253 364h1v1h-1zM254 305h1v1h-1zM254 308h1v1h-1zM254 309h1v1h-1zM254 310h1v1h-1zM254 312h1v1h-1zM254 316h1v1h-1zM254 317h1v1h-1zM254 319h1v1h-1zM254 320h1v1h-1zM254 322h1v1h-1zM254 323h1v1h-1zM254 326h1v1h-1zM254 327h1v1h-1zM254 329h1v1h-1zM254 330h1v1h-1zM254 331h1v1h-1zM254 332h1v1h-1zM254 333h1v1h-1zM254 334h1v1h-1zM254 335h1v1h-1zM254 336h1v1h-1zM254 339h1v1h-1zM254 340h1v1h-1zM254 341h1v1h-1zM254 342h1v1h-1zM254 343h1v1h-1zM254 344h1v1h-1zM254 345h1v1h-1zM254 346h1v1h-1zM254 347h1v1h-1zM254 348h1v1h-1zM254 349h1v1h-1zM254 350h1v1h-1zM254 351h1v1h-1zM254 353h1v1h-1zM254 354h1v1h-1zM254 355h1v1h-1zM254 357h1v1h-1zM254 362h1v1h-1zM255 293h1v1h-1zM255 296h1v1h-1zM255 304h1v1h-1zM255 306h1v1h-1zM255 310h1v1h-1zM255 311h1v1h-1zM255 316h1v1h-1zM255 317h1v1h-1zM255 318h1v1h-1zM255 319h1v1h-1zM255 320h1v1h-1zM255 324h1v1h-1zM255 325h1v1h-1zM255 326h1v1h-1zM255 327h1v1h-1zM255 328h1v1h-1zM255 331h1v1h-1zM255 333h1v1h-1zM255 334h1v1h-1zM255 335h1v1h-1zM255 336h1v1h-1zM255 337h1v1h-1zM255 339h1v1h-1zM255 340h1v1h-1zM255 341h1v1h-1zM255 342h1v1h-1zM255 343h1v1h-1zM255 344h1v1h-1zM255 345h1v1h-1zM255 346h1v1h-1zM255 347h1v1h-1zM255 348h1v1h-1zM255 349h1v1h-1zM255 351h1v1h-1zM255 353h1v1h-1zM255 355h1v1h-1zM255 356h1v1h-1zM255 358h1v1h-1zM255 359h1v1h-1zM255 364h1v1h-1zM256 305h1v1h-1zM256 312h1v1h-1zM256 320h1v1h-1zM256 321h1v1h-1zM256 322h1v1h-1zM256 323h1v1h-1zM256 324h1v1h-1zM256 325h1v1h-1zM256 326h1v1h-1zM256 327h1v1h-1zM256 328h1v1h-1zM256 330h1v1h-1zM256 333h1v1h-1zM256 334h1v1h-1zM256 335h1v1h-1zM256 336h1v1h-1zM256 337h1v1h-1zM256 338h1v1h-1zM256 339h1v1h-1zM256 341h1v1h-1zM256 342h1v1h-1zM256 343h1v1h-1zM256 345h1v1h-1zM256 347h1v1h-1zM256 348h1v1h-1zM256 350h1v1h-1zM256 353h1v1h-1zM256 354h1v1h-1zM256 355h1v1h-1zM257 305h1v1h-1zM257 306h1v1h-1zM257 307h1v1h-1zM257 310h1v1h-1zM257 312h1v1h-1zM257 315h1v1h-1zM257 317h1v1h-1zM257 318h1v1h-1zM257 320h1v1h-1zM257 323h1v1h-1zM257 324h1v1h-1zM257 325h1v1h-1zM257 326h1v1h-1zM257 328h1v1h-1zM257 329h1v1h-1zM257 330h1v1h-1zM257 332h1v1h-1zM257 333h1v1h-1zM257 334h1v1h-1zM257 335h1v1h-1zM257 336h1v1h-1zM257 338h1v1h-1zM257 340h1v1h-1zM257 341h1v1h-1zM257 343h1v1h-1zM257 345h1v1h-1zM257 346h1v1h-1zM257 348h1v1h-1zM257 349h1v1h-1zM257 350h1v1h-1zM257 352h1v1h-1zM257 354h1v1h-1zM257 355h1v1h-1zM257 356h1v1h-1zM257 357h1v1h-1zM257 362h1v1h-1zM258 304h1v1h-1zM258 308h1v1h-1zM258 309h1v1h-1zM258 310h1v1h-1zM258 311h1v1h-1zM258 312h1v1h-1zM258 314h1v1h-1zM258 316h1v1h-1zM258 317h1v1h-1zM258 318h1v1h-1zM258 320h1v1h-1zM258 321h1v1h-1zM258 323h1v1h-1zM258 324h1v1h-1zM258 325h1v1h-1zM258 326h1v1h-1zM258 328h1v1h-1zM258 331h1v1h-1zM258 332h1v1h-1zM258 335h1v1h-1zM258 337h1v1h-1zM258 338h1v1h-1zM258 339h1v1h-1zM258 342h1v1h-1zM258 344h1v1h-1zM258 345h1v1h-1zM258 346h1v1h-1zM258 348h1v1h-1zM258 350h1v1h-1zM258 351h1v1h-1zM258 352h1v1h-1zM258 355h1v1h-1zM258 358h1v1h-1zM258 359h1v1h-1zM259 306h1v1h-1zM259 311h1v1h-1zM259 314h1v1h-1zM259 315h1v1h-1zM259 319h1v1h-1zM259 324h1v1h-1zM259 325h1v1h-1zM259 326h1v1h-1zM259 327h1v1h-1zM259 329h1v1h-1zM259 331h1v1h-1zM259 332h1v1h-1zM259 335h1v1h-1zM259 338h1v1h-1zM259 339h1v1h-1zM259 341h1v1h-1zM259 345h1v1h-1zM259 346h1v1h-1zM259 347h1v1h-1zM259 348h1v1h-1zM259 349h1v1h-1zM259 352h1v1h-1zM259 353h1v1h-1zM259 354h1v1h-1zM259 355h1v1h-1zM259 356h1v1h-1zM259 357h1v1h-1zM259 362h1v1h-1zM259 364h1v1h-1zM260 303h1v1h-1zM260 307h1v1h-1zM260 310h1v1h-1zM260 311h1v1h-1zM260 313h1v1h-1zM260 316h1v1h-1zM260 317h1v1h-1zM260 320h1v1h-1zM260 321h1v1h-1zM260 324h1v1h-1zM260 327h1v1h-1zM260 328h1v1h-1zM260 330h1v1h-1zM260 331h1v1h-1zM260 333h1v1h-1zM260 334h1v1h-1zM260 335h1v1h-1zM260 337h1v1h-1zM260 338h1v1h-1zM260 340h1v1h-1zM260 341h1v1h-1zM260 343h1v1h-1zM260 346h1v1h-1zM260 347h1v1h-1zM260 348h1v1h-1zM260 349h1v1h-1zM260 351h1v1h-1zM260 352h1v1h-1zM260 354h1v1h-1zM260 355h1v1h-1zM260 359h1v1h-1zM260 364h1v1h-1zM261 310h1v1h-1zM261 313h1v1h-1zM261 316h1v1h-1zM261 318h1v1h-1zM261 320h1v1h-1zM261 321h1v1h-1zM261 322h1v1h-1zM261 323h1v1h-1zM261 324h1v1h-1zM261 325h1v1h-1zM261 326h1v1h-1zM261 328h1v1h-1zM261 330h1v1h-1zM261 331h1v1h-1zM261 333h1v1h-1zM261 334h1v1h-1zM261 335h1v1h-1zM261 336h1v1h-1zM261 337h1v1h-1zM261 338h1v1h-1zM261 339h1v1h-1zM261 341h1v1h-1zM261 344h1v1h-1zM261 346h1v1h-1zM261 349h1v1h-1zM261 352h1v1h-1zM261 353h1v1h-1zM261 354h1v1h-1zM262 303h1v1h-1zM262 313h1v1h-1zM262 315h1v1h-1zM262 317h1v1h-1zM262 319h1v1h-1zM262 320h1v1h-1zM262 325h1v1h-1zM262 326h1v1h-1zM262 329h1v1h-1zM262 330h1v1h-1zM262 331h1v1h-1zM262 332h1v1h-1zM262 333h1v1h-1zM262 334h1v1h-1zM262 336h1v1h-1zM262 337h1v1h-1zM262 338h1v1h-1zM262 339h1v1h-1zM262 342h1v1h-1zM262 343h1v1h-1zM262 344h1v1h-1zM262 345h1v1h-1zM262 346h1v1h-1zM262 348h1v1h-1zM262 350h1v1h-1zM262 354h1v1h-1zM262 355h1v1h-1zM262 359h1v1h-1zM262 363h1v1h-1zM263 308h1v1h-1zM263 312h1v1h-1zM263 313h1v1h-1zM263 316h1v1h-1zM263 318h1v1h-1zM263 319h1v1h-1zM263 321h1v1h-1zM263 322h1v1h-1zM263 323h1v1h-1zM263 327h1v1h-1zM263 330h1v1h-1zM263 331h1v1h-1zM263 332h1v1h-1zM263 333h1v1h-1zM263 334h1v1h-1zM263 337h1v1h-1zM263 338h1v1h-1zM263 339h1v1h-1zM263 340h1v1h-1zM263 341h1v1h-1zM263 342h1v1h-1zM263 343h1v1h-1zM263 344h1v1h-1zM263 345h1v1h-1zM263 346h1v1h-1zM263 348h1v1h-1zM263 353h1v1h-1zM263 360h1v1h-1zM263 364h1v1h-1zM264 308h1v1h-1zM264 309h1v1h-1zM264 314h1v1h-1zM264 315h1v1h-1zM264 316h1v1h-1zM264 319h1v1h-1zM264 320h1v1h-1zM264 322h1v1h-1zM264 327h1v1h-1zM264 329h1v1h-1zM264 330h1v1h-1zM264 333h1v1h-1zM264 334h1v1h-1zM264 338h1v1h-1zM264 342h1v1h-1zM264 345h1v1h-1zM264 347h1v1h-1zM264 348h1v1h-1zM264 354h1v1h-1zM264 357h1v1h-1zM264 361h1v1h-1zM264 369h1v1h-1zM265 309h1v1h-1zM265 314h1v1h-1zM265 318h1v1h-1zM265 319h1v1h-1zM265 323h1v1h-1zM265 325h1v1h-1zM265 326h1v1h-1zM265 327h1v1h-1zM265 332h1v1h-1zM265 334h1v1h-1zM265 335h1v1h-1zM265 337h1v1h-1zM265 339h1v1h-1zM265 340h1v1h-1zM265 343h1v1h-1zM265 344h1v1h-1zM265 346h1v1h-1zM265 348h1v1h-1zM265 358h1v1h-1zM265 367h1v1h-1zM266 301h1v1h-1zM266 309h1v1h-1zM266 314h1v1h-1zM266 316h1v1h-1zM266 317h1v1h-1zM266 318h1v1h-1zM266 319h1v1h-1zM266 321h1v1h-1zM266 324h1v1h-1zM266 325h1v1h-1zM266 327h1v1h-1zM266 330h1v1h-1zM266 332h1v1h-1zM266 334h1v1h-1zM266 335h1v1h-1zM266 337h1v1h-1zM266 340h1v1h-1zM266 342h1v1h-1zM266 343h1v1h-1zM266 344h1v1h-1zM266 347h1v1h-1zM266 349h1v1h-1zM266 351h1v1h-1zM266 353h1v1h-1zM267 295h1v1h-1zM267 306h1v1h-1zM267 311h1v1h-1zM267 313h1v1h-1zM267 316h1v1h-1zM267 317h1v1h-1zM267 318h1v1h-1zM267 323h1v1h-1zM267 324h1v1h-1zM267 325h1v1h-1zM267 326h1v1h-1zM267 328h1v1h-1zM267 329h1v1h-1zM267 331h1v1h-1zM267 332h1v1h-1zM267 334h1v1h-1zM267 335h1v1h-1zM267 337h1v1h-1zM267 339h1v1h-1zM267 341h1v1h-1zM267 343h1v1h-1zM267 344h1v1h-1zM267 348h1v1h-1zM267 355h1v1h-1zM267 357h1v1h-1zM268 295h1v1h-1zM268 302h1v1h-1zM268 306h1v1h-1zM268 309h1v1h-1zM268 311h1v1h-1zM268 312h1v1h-1zM268 315h1v1h-1zM268 316h1v1h-1zM268 317h1v1h-1zM268 318h1v1h-1zM268 319h1v1h-1zM268 321h1v1h-1zM268 323h1v1h-1zM268 325h1v1h-1zM268 327h1v1h-1zM268 328h1v1h-1zM268 329h1v1h-1zM268 331h1v1h-1zM268 332h1v1h-1zM268 334h1v1h-1zM268 337h1v1h-1zM268 338h1v1h-1zM268 341h1v1h-1zM268 344h1v1h-1zM268 346h1v1h-1zM268 351h1v1h-1zM269 299h1v1h-1zM269 303h1v1h-1zM269 306h1v1h-1zM269 308h1v1h-1zM269 314h1v1h-1zM269 315h1v1h-1zM269 316h1v1h-1zM269 317h1v1h-1zM269 320h1v1h-1zM269 324h1v1h-1zM269 325h1v1h-1zM269 326h1v1h-1zM269 327h1v1h-1zM269 328h1v1h-1zM269 329h1v1h-1zM269 330h1v1h-1zM269 333h1v1h-1zM269 334h1v1h-1zM269 335h1v1h-1zM269 337h1v1h-1zM269 338h1v1h-1zM269 339h1v1h-1zM269 340h1v1h-1zM269 343h1v1h-1zM269 346h1v1h-1zM269 353h1v1h-1zM269 354h1v1h-1zM269 357h1v1h-1zM270 308h1v1h-1zM270 311h1v1h-1zM270 313h1v1h-1zM270 314h1v1h-1zM270 316h1v1h-1zM270 321h1v1h-1zM270 323h1v1h-1zM270 326h1v1h-1zM270 327h1v1h-1zM270 329h1v1h-1zM270 330h1v1h-1zM270 333h1v1h-1zM270 334h1v1h-1zM270 337h1v1h-1zM270 338h1v1h-1zM270 342h1v1h-1zM270 343h1v1h-1zM270 344h1v1h-1zM270 345h1v1h-1zM270 346h1v1h-1zM270 349h1v1h-1zM270 352h1v1h-1zM270 353h1v1h-1zM271 309h1v1h-1zM271 313h1v1h-1zM271 314h1v1h-1zM271 317h1v1h-1zM271 318h1v1h-1zM271 319h1v1h-1zM271 320h1v1h-1zM271 321h1v1h-1zM271 322h1v1h-1zM271 324h1v1h-1zM271 325h1v1h-1zM271 327h1v1h-1zM271 329h1v1h-1zM271 330h1v1h-1zM271 332h1v1h-1zM271 333h1v1h-1zM271 334h1v1h-1zM271 335h1v1h-1zM271 336h1v1h-1zM271 339h1v1h-1zM271 340h1v1h-1zM271 341h1v1h-1zM271 342h1v1h-1zM271 343h1v1h-1zM271 344h1v1h-1zM271 347h1v1h-1zM271 351h1v1h-1zM271 352h1v1h-1zM271 353h1v1h-1zM272 292h1v1h-1zM272 302h1v1h-1zM272 305h1v1h-1zM272 307h1v1h-1zM272 308h1v1h-1zM272 309h1v1h-1zM272 314h1v1h-1zM272 315h1v1h-1zM272 317h1v1h-1zM272 318h1v1h-1zM272 319h1v1h-1zM272 321h1v1h-1zM272 322h1v1h-1zM272 324h1v1h-1zM272 325h1v1h-1zM272 326h1v1h-1zM272 327h1v1h-1zM272 332h1v1h-1zM272 334h1v1h-1zM272 340h1v1h-1zM272 341h1v1h-1zM272 343h1v1h-1zM272 344h1v1h-1zM272 346h1v1h-1zM272 347h1v1h-1zM272 349h1v1h-1zM272 353h1v1h-1zM272 355h1v1h-1zM272 356h1v1h-1zM272 358h1v1h-1zM273 308h1v1h-1zM273 315h1v1h-1zM273 316h1v1h-1zM273 317h1v1h-1zM273 320h1v1h-1zM273 323h1v1h-1zM273 325h1v1h-1zM273 326h1v1h-1zM273 327h1v1h-1zM273 328h1v1h-1zM273 329h1v1h-1zM273 330h1v1h-1zM273 332h1v1h-1zM273 333h1v1h-1zM273 334h1v1h-1zM273 335h1v1h-1zM273 336h1v1h-1zM273 338h1v1h-1zM273 339h1v1h-1zM273 348h1v1h-1zM273 352h1v1h-1zM273 353h1v1h-1zM273 354h1v1h-1zM273 355h1v1h-1zM274 301h1v1h-1zM274 304h1v1h-1zM274 305h1v1h-1zM274 307h1v1h-1zM274 308h1v1h-1zM274 315h1v1h-1zM274 316h1v1h-1zM274 318h1v1h-1zM274 319h1v1h-1zM274 321h1v1h-1zM274 325h1v1h-1zM274 326h1v1h-1zM274 327h1v1h-1zM274 328h1v1h-1zM274 329h1v1h-1zM274 331h1v1h-1zM274 332h1v1h-1zM274 335h1v1h-1zM274 337h1v1h-1zM274 338h1v1h-1zM274 339h1v1h-1zM274 340h1v1h-1zM274 341h1v1h-1zM274 342h1v1h-1zM274 343h1v1h-1zM274 344h1v1h-1zM274 348h1v1h-1zM274 352h1v1h-1zM274 354h1v1h-1zM275 302h1v1h-1zM275 305h1v1h-1zM275 310h1v1h-1zM275 312h1v1h-1zM275 314h1v1h-1zM275 316h1v1h-1zM275 318h1v1h-1zM275 320h1v1h-1zM275 322h1v1h-1zM275 323h1v1h-1zM275 325h1v1h-1zM275 326h1v1h-1zM275 328h1v1h-1zM275 329h1v1h-1zM275 331h1v1h-1zM275 332h1v1h-1zM275 333h1v1h-1zM275 334h1v1h-1zM275 338h1v1h-1zM275 340h1v1h-1zM275 341h1v1h-1zM275 342h1v1h-1zM275 343h1v1h-1zM275 344h1v1h-1zM275 346h1v1h-1zM275 351h1v1h-1zM275 356h1v1h-1zM275 357h1v1h-1zM275 367h1v1h-1zM276 299h1v1h-1zM276 313h1v1h-1zM276 317h1v1h-1zM276 320h1v1h-1zM276 321h1v1h-1zM276 323h1v1h-1zM276 324h1v1h-1zM276 325h1v1h-1zM276 326h1v1h-1zM276 327h1v1h-1zM276 328h1v1h-1zM276 330h1v1h-1zM276 332h1v1h-1zM276 333h1v1h-1zM276 335h1v1h-1zM276 337h1v1h-1zM276 339h1v1h-1zM276 342h1v1h-1zM276 345h1v1h-1zM276 346h1v1h-1zM276 347h1v1h-1zM276 348h1v1h-1zM276 351h1v1h-1zM276 353h1v1h-1zM277 305h1v1h-1zM277 307h1v1h-1zM277 308h1v1h-1zM277 310h1v1h-1zM277 313h1v1h-1zM277 314h1v1h-1zM277 317h1v1h-1zM277 319h1v1h-1zM277 320h1v1h-1zM277 321h1v1h-1zM277 322h1v1h-1zM277 323h1v1h-1zM277 327h1v1h-1zM277 328h1v1h-1zM277 329h1v1h-1zM277 330h1v1h-1zM277 332h1v1h-1zM277 333h1v1h-1zM277 334h1v1h-1zM277 335h1v1h-1zM277 337h1v1h-1zM277 338h1v1h-1zM277 339h1v1h-1zM277 342h1v1h-1zM277 344h1v1h-1zM277 345h1v1h-1zM277 347h1v1h-1zM277 348h1v1h-1zM277 350h1v1h-1zM277 359h1v1h-1zM277 368h1v1h-1zM278 294h1v1h-1zM278 304h1v1h-1zM278 305h1v1h-1zM278 309h1v1h-1zM278 310h1v1h-1zM278 313h1v1h-1zM278 314h1v1h-1zM278 315h1v1h-1zM278 316h1v1h-1zM278 317h1v1h-1zM278 318h1v1h-1zM278 319h1v1h-1zM278 320h1v1h-1zM278 322h1v1h-1zM278 323h1v1h-1zM278 325h1v1h-1zM278 326h1v1h-1zM278 327h1v1h-1zM278 329h1v1h-1zM278 330h1v1h-1zM278 332h1v1h-1zM278 333h1v1h-1zM278 335h1v1h-1zM278 336h1v1h-1zM278 337h1v1h-1zM278 338h1v1h-1zM278 339h1v1h-1zM278 345h1v1h-1zM278 347h1v1h-1zM278 348h1v1h-1zM278 355h1v1h-1zM279 296h1v1h-1zM279 302h1v1h-1zM279 303h1v1h-1zM279 305h1v1h-1zM279 306h1v1h-1zM279 307h1v1h-1zM279 308h1v1h-1zM279 311h1v1h-1zM279 315h1v1h-1zM279 317h1v1h-1zM279 318h1v1h-1zM279 319h1v1h-1zM279 320h1v1h-1zM279 321h1v1h-1zM279 322h1v1h-1zM279 325h1v1h-1zM279 326h1v1h-1zM279 327h1v1h-1zM279 328h1v1h-1zM279 329h1v1h-1zM279 330h1v1h-1zM279 331h1v1h-1zM279 332h1v1h-1zM279 336h1v1h-1zM279 339h1v1h-1zM279 346h1v1h-1zM279 350h1v1h-1zM279 354h1v1h-1zM280 296h1v1h-1zM280 302h1v1h-1zM280 304h1v1h-1zM280 310h1v1h-1zM280 311h1v1h-1zM280 312h1v1h-1zM280 313h1v1h-1zM280 314h1v1h-1zM280 316h1v1h-1zM280 317h1v1h-1zM280 318h1v1h-1zM280 319h1v1h-1zM280 320h1v1h-1zM280 321h1v1h-1zM280 322h1v1h-1zM280 323h1v1h-1zM280 324h1v1h-1zM280 325h1v1h-1zM280 326h1v1h-1zM280 328h1v1h-1zM280 329h1v1h-1zM280 330h1v1h-1zM280 333h1v1h-1zM280 337h1v1h-1zM280 338h1v1h-1zM280 341h1v1h-1zM280 342h1v1h-1zM280 343h1v1h-1zM280 344h1v1h-1zM280 345h1v1h-1zM280 349h1v1h-1zM280 352h1v1h-1zM281 301h1v1h-1zM281 306h1v1h-1zM281 307h1v1h-1zM281 308h1v1h-1zM281 310h1v1h-1zM281 313h1v1h-1zM281 314h1v1h-1zM281 316h1v1h-1zM281 318h1v1h-1zM281 320h1v1h-1zM281 321h1v1h-1zM281 322h1v1h-1zM281 324h1v1h-1zM281 326h1v1h-1zM281 329h1v1h-1zM281 331h1v1h-1zM281 333h1v1h-1zM281 334h1v1h-1zM281 335h1v1h-1zM281 338h1v1h-1zM281 339h1v1h-1zM281 340h1v1h-1zM281 342h1v1h-1zM281 343h1v1h-1zM281 344h1v1h-1zM281 345h1v1h-1zM281 346h1v1h-1zM281 349h1v1h-1zM281 353h1v1h-1zM281 354h1v1h-1zM281 355h1v1h-1zM282 295h1v1h-1zM282 303h1v1h-1zM282 305h1v1h-1zM282 307h1v1h-1zM282 309h1v1h-1zM282 310h1v1h-1zM282 311h1v1h-1zM282 312h1v1h-1zM282 313h1v1h-1zM282 315h1v1h-1zM282 317h1v1h-1zM282 318h1v1h-1zM282 319h1v1h-1zM282 320h1v1h-1zM282 322h1v1h-1zM282 324h1v1h-1zM282 325h1v1h-1zM282 326h1v1h-1zM282 328h1v1h-1zM282 329h1v1h-1zM282 330h1v1h-1zM282 331h1v1h-1zM282 333h1v1h-1zM282 334h1v1h-1zM282 335h1v1h-1zM282 336h1v1h-1zM282 338h1v1h-1zM282 339h1v1h-1zM282 340h1v1h-1zM282 344h1v1h-1zM282 345h1v1h-1zM282 346h1v1h-1zM282 347h1v1h-1zM282 348h1v1h-1zM282 350h1v1h-1zM282 351h1v1h-1zM283 299h1v1h-1zM283 303h1v1h-1zM283 304h1v1h-1zM283 305h1v1h-1zM283 306h1v1h-1zM283 307h1v1h-1zM283 309h1v1h-1zM283 310h1v1h-1zM283 311h1v1h-1zM283 312h1v1h-1zM283 313h1v1h-1zM283 314h1v1h-1zM283 315h1v1h-1zM283 316h1v1h-1zM283 317h1v1h-1zM283 318h1v1h-1zM283 319h1v1h-1zM283 320h1v1h-1zM283 321h1v1h-1zM283 323h1v1h-1zM283 324h1v1h-1zM283 326h1v1h-1zM283 327h1v1h-1zM283 329h1v1h-1zM283 330h1v1h-1zM283 331h1v1h-1zM283 333h1v1h-1zM283 334h1v1h-1zM283 335h1v1h-1zM283 338h1v1h-1zM283 341h1v1h-1zM283 343h1v1h-1zM283 344h1v1h-1zM283 345h1v1h-1zM283 346h1v1h-1zM283 348h1v1h-1zM283 350h1v1h-1zM283 352h1v1h-1zM283 353h1v1h-1zM283 356h1v1h-1zM284 290h1v1h-1zM284 295h1v1h-1zM284 306h1v1h-1zM284 308h1v1h-1zM284 309h1v1h-1zM284 310h1v1h-1zM284 311h1v1h-1zM284 312h1v1h-1zM284 314h1v1h-1zM284 315h1v1h-1zM284 317h1v1h-1zM284 318h1v1h-1zM284 319h1v1h-1zM284 320h1v1h-1zM284 321h1v1h-1zM284 323h1v1h-1zM284 324h1v1h-1zM284 327h1v1h-1zM284 329h1v1h-1zM284 330h1v1h-1zM284 332h1v1h-1zM284 333h1v1h-1zM284 334h1v1h-1zM284 335h1v1h-1zM284 336h1v1h-1zM284 337h1v1h-1zM284 339h1v1h-1zM284 340h1v1h-1zM284 341h1v1h-1zM284 342h1v1h-1zM284 344h1v1h-1zM284 345h1v1h-1zM284 347h1v1h-1zM284 348h1v1h-1zM284 349h1v1h-1zM284 350h1v1h-1zM284 351h1v1h-1zM285 298h1v1h-1zM285 300h1v1h-1zM285 303h1v1h-1zM285 305h1v1h-1zM285 306h1v1h-1zM285 307h1v1h-1zM285 308h1v1h-1zM285 309h1v1h-1zM285 313h1v1h-1zM285 314h1v1h-1zM285 315h1v1h-1zM285 316h1v1h-1zM285 318h1v1h-1zM285 319h1v1h-1zM285 321h1v1h-1zM285 322h1v1h-1zM285 324h1v1h-1zM285 325h1v1h-1zM285 326h1v1h-1zM285 327h1v1h-1zM285 328h1v1h-1zM285 329h1v1h-1zM285 330h1v1h-1zM285 331h1v1h-1zM285 332h1v1h-1zM285 333h1v1h-1zM285 334h1v1h-1zM285 338h1v1h-1zM285 339h1v1h-1zM285 340h1v1h-1zM285 341h1v1h-1zM285 342h1v1h-1zM285 343h1v1h-1zM285 350h1v1h-1zM285 358h1v1h-1zM286 295h1v1h-1zM286 300h1v1h-1zM286 304h1v1h-1zM286 305h1v1h-1zM286 307h1v1h-1zM286 308h1v1h-1zM286 310h1v1h-1zM286 311h1v1h-1zM286 312h1v1h-1zM286 313h1v1h-1zM286 316h1v1h-1zM286 317h1v1h-1zM286 318h1v1h-1zM286 319h1v1h-1zM286 320h1v1h-1zM286 321h1v1h-1zM286 322h1v1h-1zM286 323h1v1h-1zM286 324h1v1h-1zM286 325h1v1h-1zM286 326h1v1h-1zM286 327h1v1h-1zM286 328h1v1h-1zM286 329h1v1h-1zM286 330h1v1h-1zM286 331h1v1h-1zM286 332h1v1h-1zM286 333h1v1h-1zM286 335h1v1h-1zM286 338h1v1h-1zM286 340h1v1h-1zM286 341h1v1h-1zM286 342h1v1h-1zM286 343h1v1h-1zM286 344h1v1h-1zM286 345h1v1h-1zM286 346h1v1h-1zM286 349h1v1h-1zM286 350h1v1h-1zM286 353h1v1h-1zM286 355h1v1h-1zM287 287h1v1h-1zM287 300h1v1h-1zM287 307h1v1h-1zM287 310h1v1h-1zM287 311h1v1h-1zM287 312h1v1h-1zM287 313h1v1h-1zM287 314h1v1h-1zM287 316h1v1h-1zM287 317h1v1h-1zM287 319h1v1h-1zM287 320h1v1h-1zM287 321h1v1h-1zM287 322h1v1h-1zM287 323h1v1h-1zM287 325h1v1h-1zM287 326h1v1h-1zM287 327h1v1h-1zM287 328h1v1h-1zM287 334h1v1h-1zM287 335h1v1h-1zM287 336h1v1h-1zM287 337h1v1h-1zM287 339h1v1h-1zM287 340h1v1h-1zM287 342h1v1h-1zM287 343h1v1h-1zM287 346h1v1h-1zM287 347h1v1h-1zM287 352h1v1h-1zM287 362h1v1h-1zM288 292h1v1h-1zM288 299h1v1h-1zM288 304h1v1h-1zM288 306h1v1h-1zM288 307h1v1h-1zM288 308h1v1h-1zM288 309h1v1h-1zM288 311h1v1h-1zM288 312h1v1h-1zM288 313h1v1h-1zM288 314h1v1h-1zM288 315h1v1h-1zM288 316h1v1h-1zM288 317h1v1h-1zM288 318h1v1h-1zM288 319h1v1h-1zM288 320h1v1h-1zM288 322h1v1h-1zM288 323h1v1h-1zM288 324h1v1h-1zM288 325h1v1h-1zM288 327h1v1h-1zM288 328h1v1h-1zM288 329h1v1h-1zM288 330h1v1h-1zM288 331h1v1h-1zM288 333h1v1h-1zM288 335h1v1h-1zM288 336h1v1h-1zM288 337h1v1h-1zM288 340h1v1h-1zM288 344h1v1h-1zM288 346h1v1h-1zM288 353h1v1h-1zM288 354h1v1h-1zM289 297h1v1h-1zM289 300h1v1h-1zM289 303h1v1h-1zM289 304h1v1h-1zM289 311h1v1h-1zM289 312h1v1h-1zM289 313h1v1h-1zM289 314h1v1h-1zM289 315h1v1h-1zM289 316h1v1h-1zM289 317h1v1h-1zM289 318h1v1h-1zM289 319h1v1h-1zM289 321h1v1h-1zM289 323h1v1h-1zM289 324h1v1h-1zM289 326h1v1h-1zM289 328h1v1h-1zM289 329h1v1h-1zM289 332h1v1h-1zM289 334h1v1h-1zM289 335h1v1h-1zM289 336h1v1h-1zM289 337h1v1h-1zM289 338h1v1h-1zM289 341h1v1h-1zM289 342h1v1h-1zM289 344h1v1h-1zM289 345h1v1h-1zM289 348h1v1h-1zM289 349h1v1h-1zM289 351h1v1h-1zM290 287h1v1h-1zM290 300h1v1h-1zM290 302h1v1h-1zM290 304h1v1h-1zM290 306h1v1h-1zM290 307h1v1h-1zM290 308h1v1h-1zM290 309h1v1h-1zM290 310h1v1h-1zM290 311h1v1h-1zM290 312h1v1h-1zM290 313h1v1h-1zM290 314h1v1h-1zM290 316h1v1h-1zM290 317h1v1h-1zM290 318h1v1h-1zM290 319h1v1h-1zM290 320h1v1h-1zM290 321h1v1h-1zM290 322h1v1h-1zM290 323h1v1h-1zM290 324h1v1h-1zM290 325h1v1h-1zM290 327h1v1h-1zM290 329h1v1h-1zM290 330h1v1h-1zM290 331h1v1h-1zM290 332h1v1h-1zM290 333h1v1h-1zM290 335h1v1h-1zM290 336h1v1h-1zM290 337h1v1h-1zM290 342h1v1h-1zM290 343h1v1h-1zM290 345h1v1h-1zM290 346h1v1h-1zM290 349h1v1h-1zM290 356h1v1h-1zM291 296h1v1h-1zM291 298h1v1h-1zM291 300h1v1h-1zM291 302h1v1h-1zM291 305h1v1h-1zM291 306h1v1h-1zM291 308h1v1h-1zM291 309h1v1h-1zM291 311h1v1h-1zM291 312h1v1h-1zM291 314h1v1h-1zM291 315h1v1h-1zM291 316h1v1h-1zM291 318h1v1h-1zM291 319h1v1h-1zM291 320h1v1h-1zM291 321h1v1h-1zM291 322h1v1h-1zM291 323h1v1h-1zM291 324h1v1h-1zM291 325h1v1h-1zM291 326h1v1h-1zM291 327h1v1h-1zM291 328h1v1h-1zM291 329h1v1h-1zM291 330h1v1h-1zM291 331h1v1h-1zM291 332h1v1h-1zM291 333h1v1h-1zM291 335h1v1h-1zM291 336h1v1h-1zM291 337h1v1h-1zM291 338h1v1h-1zM291 339h1v1h-1zM291 340h1v1h-1zM291 341h1v1h-1zM291 348h1v1h-1zM291 349h1v1h-1zM291 353h1v1h-1zM291 359h1v1h-1zM291 362h1v1h-1zM292 296h1v1h-1zM292 298h1v1h-1zM292 300h1v1h-1zM292 301h1v1h-1zM292 302h1v1h-1zM292 303h1v1h-1zM292 304h1v1h-1zM292 305h1v1h-1zM292 306h1v1h-1zM292 307h1v1h-1zM292 308h1v1h-1zM292 310h1v1h-1zM292 311h1v1h-1zM292 312h1v1h-1zM292 313h1v1h-1zM292 314h1v1h-1zM292 316h1v1h-1zM292 317h1v1h-1zM292 318h1v1h-1zM292 319h1v1h-1zM292 320h1v1h-1zM292 321h1v1h-1zM292 322h1v1h-1zM292 323h1v1h-1zM292 324h1v1h-1zM292 325h1v1h-1zM292 326h1v1h-1zM292 327h1v1h-1zM292 329h1v1h-1zM292 330h1v1h-1zM292 331h1v1h-1zM292 332h1v1h-1zM292 334h1v1h-1zM292 337h1v1h-1zM292 338h1v1h-1zM292 340h1v1h-1zM292 342h1v1h-1zM292 344h1v1h-1zM292 345h1v1h-1zM292 347h1v1h-1zM293 288h1v1h-1zM293 297h1v1h-1zM293 299h1v1h-1zM293 304h1v1h-1zM293 307h1v1h-1zM293 308h1v1h-1zM293 310h1v1h-1zM293 314h1v1h-1zM293 316h1v1h-1zM293 318h1v1h-1zM293 319h1v1h-1zM293 320h1v1h-1zM293 321h1v1h-1zM293 322h1v1h-1zM293 323h1v1h-1zM293 324h1v1h-1zM293 325h1v1h-1zM293 326h1v1h-1zM293 327h1v1h-1zM293 329h1v1h-1zM293 330h1v1h-1zM293 331h1v1h-1zM293 333h1v1h-1zM293 335h1v1h-1zM293 336h1v1h-1zM293 338h1v1h-1zM293 340h1v1h-1zM293 341h1v1h-1zM293 342h1v1h-1zM293 343h1v1h-1zM293 345h1v1h-1zM293 348h1v1h-1zM293 351h1v1h-1zM294 285h1v1h-1zM294 296h1v1h-1zM294 297h1v1h-1zM294 303h1v1h-1zM294 305h1v1h-1zM294 306h1v1h-1zM294 308h1v1h-1zM294 309h1v1h-1zM294 310h1v1h-1zM294 311h1v1h-1zM294 312h1v1h-1zM294 313h1v1h-1zM294 314h1v1h-1zM294 315h1v1h-1zM294 316h1v1h-1zM294 317h1v1h-1zM294 318h1v1h-1zM294 319h1v1h-1zM294 320h1v1h-1zM294 321h1v1h-1zM294 322h1v1h-1zM294 323h1v1h-1zM294 324h1v1h-1zM294 325h1v1h-1zM294 326h1v1h-1zM294 327h1v1h-1zM294 329h1v1h-1zM294 330h1v1h-1zM294 331h1v1h-1zM294 332h1v1h-1zM294 333h1v1h-1zM294 335h1v1h-1zM294 336h1v1h-1zM294 337h1v1h-1zM294 339h1v1h-1zM294 343h1v1h-1zM294 344h1v1h-1zM294 345h1v1h-1zM294 347h1v1h-1zM294 350h1v1h-1zM294 352h1v1h-1zM295 284h1v1h-1zM295 292h1v1h-1zM295 296h1v1h-1zM295 301h1v1h-1zM295 302h1v1h-1zM295 304h1v1h-1zM295 305h1v1h-1zM295 306h1v1h-1zM295 307h1v1h-1zM295 309h1v1h-1zM295 310h1v1h-1zM295 311h1v1h-1zM295 313h1v1h-1zM295 314h1v1h-1zM295 315h1v1h-1zM295 316h1v1h-1zM295 317h1v1h-1zM295 318h1v1h-1zM295 319h1v1h-1zM295 320h1v1h-1zM295 321h1v1h-1zM295 322h1v1h-1zM295 323h1v1h-1zM295 324h1v1h-1zM295 325h1v1h-1zM295 327h1v1h-1zM295 328h1v1h-1zM295 329h1v1h-1zM295 330h1v1h-1zM295 331h1v1h-1zM295 332h1v1h-1zM295 333h1v1h-1zM295 334h1v1h-1zM295 335h1v1h-1zM295 336h1v1h-1zM295 337h1v1h-1zM295 338h1v1h-1zM295 342h1v1h-1zM295 343h1v1h-1zM295 344h1v1h-1zM295 347h1v1h-1zM295 355h1v1h-1zM296 284h1v1h-1zM296 290h1v1h-1zM296 298h1v1h-1zM296 300h1v1h-1zM296 302h1v1h-1zM296 304h1v1h-1zM296 306h1v1h-1zM296 307h1v1h-1zM296 308h1v1h-1zM296 309h1v1h-1zM296 310h1v1h-1zM296 311h1v1h-1zM296 312h1v1h-1zM296 313h1v1h-1zM296 315h1v1h-1zM296 316h1v1h-1zM296 317h1v1h-1zM296 318h1v1h-1zM296 319h1v1h-1zM296 320h1v1h-1zM296 321h1v1h-1zM296 323h1v1h-1zM296 326h1v1h-1zM296 327h1v1h-1zM296 328h1v1h-1zM296 331h1v1h-1zM296 333h1v1h-1zM296 334h1v1h-1zM296 335h1v1h-1zM296 337h1v1h-1zM296 338h1v1h-1zM296 339h1v1h-1zM296 340h1v1h-1zM296 341h1v1h-1zM296 344h1v1h-1zM296 345h1v1h-1zM296 349h1v1h-1zM296 352h1v1h-1zM296 358h1v1h-1zM297 294h1v1h-1zM297 296h1v1h-1zM297 297h1v1h-1zM297 299h1v1h-1zM297 300h1v1h-1zM297 303h1v1h-1zM297 304h1v1h-1zM297 305h1v1h-1zM297 308h1v1h-1zM297 309h1v1h-1zM297 310h1v1h-1zM297 311h1v1h-1zM297 314h1v1h-1zM297 317h1v1h-1zM297 318h1v1h-1zM297 320h1v1h-1zM297 321h1v1h-1zM297 322h1v1h-1zM297 323h1v1h-1zM297 324h1v1h-1zM297 325h1v1h-1zM297 326h1v1h-1zM297 327h1v1h-1zM297 328h1v1h-1zM297 329h1v1h-1zM297 330h1v1h-1zM297 331h1v1h-1zM297 332h1v1h-1zM297 334h1v1h-1zM297 335h1v1h-1zM297 336h1v1h-1zM297 337h1v1h-1zM297 338h1v1h-1zM297 339h1v1h-1zM297 340h1v1h-1zM297 341h1v1h-1zM297 346h1v1h-1zM297 349h1v1h-1zM298 291h1v1h-1zM298 294h1v1h-1zM298 297h1v1h-1zM298 299h1v1h-1zM298 300h1v1h-1zM298 301h1v1h-1zM298 303h1v1h-1zM298 304h1v1h-1zM298 305h1v1h-1zM298 306h1v1h-1zM298 307h1v1h-1zM298 309h1v1h-1zM298 310h1v1h-1zM298 311h1v1h-1zM298 312h1v1h-1zM298 313h1v1h-1zM298 314h1v1h-1zM298 315h1v1h-1zM298 316h1v1h-1zM298 317h1v1h-1zM298 318h1v1h-1zM298 319h1v1h-1zM298 320h1v1h-1zM298 321h1v1h-1zM298 322h1v1h-1zM298 323h1v1h-1zM298 324h1v1h-1zM298 325h1v1h-1zM298 327h1v1h-1zM298 328h1v1h-1zM298 329h1v1h-1zM298 330h1v1h-1zM298 331h1v1h-1zM298 332h1v1h-1zM298 333h1v1h-1zM298 334h1v1h-1zM298 335h1v1h-1zM298 337h1v1h-1zM298 341h1v1h-1zM298 355h1v1h-1zM299 287h1v1h-1zM299 291h1v1h-1zM299 293h1v1h-1zM299 295h1v1h-1zM299 297h1v1h-1zM299 298h1v1h-1zM299 299h1v1h-1zM299 301h1v1h-1zM299 302h1v1h-1zM299 303h1v1h-1zM299 305h1v1h-1zM299 306h1v1h-1zM299 307h1v1h-1zM299 308h1v1h-1zM299 309h1v1h-1zM299 310h1v1h-1zM299 311h1v1h-1zM299 312h1v1h-1zM299 313h1v1h-1zM299 314h1v1h-1zM299 315h1v1h-1zM299 316h1v1h-1zM299 317h1v1h-1zM299 318h1v1h-1zM299 319h1v1h-1zM299 320h1v1h-1zM299 321h1v1h-1zM299 322h1v1h-1zM299 323h1v1h-1zM299 325h1v1h-1zM299 326h1v1h-1zM299 329h1v1h-1zM299 330h1v1h-1zM299 331h1v1h-1zM299 332h1v1h-1zM299 333h1v1h-1zM299 334h1v1h-1zM299 335h1v1h-1zM299 337h1v1h-1zM299 338h1v1h-1zM299 339h1v1h-1zM299 342h1v1h-1zM299 343h1v1h-1zM299 345h1v1h-1zM299 346h1v1h-1zM299 348h1v1h-1zM299 351h1v1h-1zM300 285h1v1h-1zM300 294h1v1h-1zM300 295h1v1h-1zM300 296h1v1h-1zM300 297h1v1h-1zM300 299h1v1h-1zM300 300h1v1h-1zM300 303h1v1h-1zM300 305h1v1h-1zM300 307h1v1h-1zM300 308h1v1h-1zM300 309h1v1h-1zM300 311h1v1h-1zM300 312h1v1h-1zM300 313h1v1h-1zM300 314h1v1h-1zM300 316h1v1h-1zM300 317h1v1h-1zM300 318h1v1h-1zM300 319h1v1h-1zM300 320h1v1h-1zM300 321h1v1h-1zM300 324h1v1h-1zM300 325h1v1h-1zM300 326h1v1h-1zM300 328h1v1h-1zM300 330h1v1h-1zM300 331h1v1h-1zM300 334h1v1h-1zM300 335h1v1h-1zM300 338h1v1h-1zM300 339h1v1h-1zM300 340h1v1h-1zM300 345h1v1h-1zM301 279h1v1h-1zM301 295h1v1h-1zM301 297h1v1h-1zM301 300h1v1h-1zM301 301h1v1h-1zM301 303h1v1h-1zM301 304h1v1h-1zM301 305h1v1h-1zM301 306h1v1h-1zM301 307h1v1h-1zM301 308h1v1h-1zM301 309h1v1h-1zM301 310h1v1h-1zM301 311h1v1h-1zM301 312h1v1h-1zM301 313h1v1h-1zM301 314h1v1h-1zM301 316h1v1h-1zM301 317h1v1h-1zM301 320h1v1h-1zM301 321h1v1h-1zM301 323h1v1h-1zM301 324h1v1h-1zM301 325h1v1h-1zM301 326h1v1h-1zM301 328h1v1h-1zM301 329h1v1h-1zM301 330h1v1h-1zM301 332h1v1h-1zM301 333h1v1h-1zM301 334h1v1h-1zM301 338h1v1h-1zM301 339h1v1h-1zM301 341h1v1h-1zM301 345h1v1h-1zM301 347h1v1h-1zM302 297h1v1h-1zM302 300h1v1h-1zM302 301h1v1h-1zM302 304h1v1h-1zM302 305h1v1h-1zM302 306h1v1h-1zM302 307h1v1h-1zM302 308h1v1h-1zM302 309h1v1h-1zM302 310h1v1h-1zM302 311h1v1h-1zM302 314h1v1h-1zM302 315h1v1h-1zM302 317h1v1h-1zM302 318h1v1h-1zM302 319h1v1h-1zM302 320h1v1h-1zM302 321h1v1h-1zM302 322h1v1h-1zM302 323h1v1h-1zM302 324h1v1h-1zM302 325h1v1h-1zM302 326h1v1h-1zM302 328h1v1h-1zM302 329h1v1h-1zM302 330h1v1h-1zM302 331h1v1h-1zM302 332h1v1h-1zM302 336h1v1h-1zM302 337h1v1h-1zM302 339h1v1h-1zM302 340h1v1h-1zM302 341h1v1h-1zM302 343h1v1h-1zM302 346h1v1h-1zM302 349h1v1h-1zM302 350h1v1h-1zM302 357h1v1h-1zM303 294h1v1h-1zM303 295h1v1h-1zM303 296h1v1h-1zM303 297h1v1h-1zM303 301h1v1h-1zM303 302h1v1h-1zM303 303h1v1h-1zM303 304h1v1h-1zM303 305h1v1h-1zM303 306h1v1h-1zM303 307h1v1h-1zM303 309h1v1h-1zM303 311h1v1h-1zM303 313h1v1h-1zM303 314h1v1h-1zM303 315h1v1h-1zM303 316h1v1h-1zM303 317h1v1h-1zM303 318h1v1h-1zM303 319h1v1h-1zM303 322h1v1h-1zM303 323h1v1h-1zM303 324h1v1h-1zM303 325h1v1h-1zM303 326h1v1h-1zM303 330h1v1h-1zM303 332h1v1h-1zM303 336h1v1h-1zM303 338h1v1h-1zM303 339h1v1h-1zM303 346h1v1h-1zM304 279h1v1h-1zM304 300h1v1h-1zM304 301h1v1h-1zM304 303h1v1h-1zM304 305h1v1h-1zM304 306h1v1h-1zM304 308h1v1h-1zM304 309h1v1h-1zM304 310h1v1h-1zM304 311h1v1h-1zM304 312h1v1h-1zM304 313h1v1h-1zM304 315h1v1h-1zM304 316h1v1h-1zM304 317h1v1h-1zM304 318h1v1h-1zM304 322h1v1h-1zM304 323h1v1h-1zM304 324h1v1h-1zM304 325h1v1h-1zM304 327h1v1h-1zM304 328h1v1h-1zM304 329h1v1h-1zM304 331h1v1h-1zM304 332h1v1h-1zM304 334h1v1h-1zM304 335h1v1h-1zM304 343h1v1h-1zM305 292h1v1h-1zM305 293h1v1h-1zM305 295h1v1h-1zM305 297h1v1h-1zM305 298h1v1h-1zM305 299h1v1h-1zM305 300h1v1h-1zM305 301h1v1h-1zM305 302h1v1h-1zM305 303h1v1h-1zM305 304h1v1h-1zM305 305h1v1h-1zM305 308h1v1h-1zM305 309h1v1h-1zM305 310h1v1h-1zM305 311h1v1h-1zM305 312h1v1h-1zM305 313h1v1h-1zM305 315h1v1h-1zM305 316h1v1h-1zM305 317h1v1h-1zM305 318h1v1h-1zM305 319h1v1h-1zM305 320h1v1h-1zM305 322h1v1h-1zM305 324h1v1h-1zM305 325h1v1h-1zM305 328h1v1h-1zM305 329h1v1h-1zM305 332h1v1h-1zM305 334h1v1h-1zM305 338h1v1h-1zM305 340h1v1h-1zM305 341h1v1h-1zM305 342h1v1h-1zM305 348h1v1h-1zM305 355h1v1h-1zM306 295h1v1h-1zM306 296h1v1h-1zM306 297h1v1h-1zM306 300h1v1h-1zM306 301h1v1h-1zM306 302h1v1h-1zM306 303h1v1h-1zM306 304h1v1h-1zM306 307h1v1h-1zM306 308h1v1h-1zM306 309h1v1h-1zM306 310h1v1h-1zM306 311h1v1h-1zM306 312h1v1h-1zM306 313h1v1h-1zM306 314h1v1h-1zM306 315h1v1h-1zM306 318h1v1h-1zM306 319h1v1h-1zM306 320h1v1h-1zM306 321h1v1h-1zM306 323h1v1h-1zM306 324h1v1h-1zM306 327h1v1h-1zM306 336h1v1h-1zM306 338h1v1h-1zM306 340h1v1h-1zM306 342h1v1h-1zM306 345h1v1h-1zM307 292h1v1h-1zM307 293h1v1h-1zM307 300h1v1h-1zM307 301h1v1h-1zM307 302h1v1h-1zM307 304h1v1h-1zM307 305h1v1h-1zM307 306h1v1h-1zM307 307h1v1h-1zM307 308h1v1h-1zM307 309h1v1h-1zM307 310h1v1h-1zM307 311h1v1h-1zM307 312h1v1h-1zM307 313h1v1h-1zM307 315h1v1h-1zM307 316h1v1h-1zM307 318h1v1h-1zM307 319h1v1h-1zM307 320h1v1h-1zM307 321h1v1h-1zM307 322h1v1h-1zM307 323h1v1h-1zM307 324h1v1h-1zM307 325h1v1h-1zM307 328h1v1h-1zM307 337h1v1h-1zM307 343h1v1h-1zM307 354h1v1h-1zM308 288h1v1h-1zM308 291h1v1h-1zM308 295h1v1h-1zM308 296h1v1h-1zM308 300h1v1h-1zM308 301h1v1h-1zM308 302h1v1h-1zM308 303h1v1h-1zM308 304h1v1h-1zM308 305h1v1h-1zM308 308h1v1h-1zM308 309h1v1h-1zM308 310h1v1h-1zM308 311h1v1h-1zM308 312h1v1h-1zM308 313h1v1h-1zM308 315h1v1h-1zM308 316h1v1h-1zM308 317h1v1h-1zM308 318h1v1h-1zM308 319h1v1h-1zM308 320h1v1h-1zM308 321h1v1h-1zM308 322h1v1h-1zM308 323h1v1h-1zM308 324h1v1h-1zM308 326h1v1h-1zM308 327h1v1h-1zM308 328h1v1h-1zM308 331h1v1h-1zM308 332h1v1h-1zM308 334h1v1h-1zM308 335h1v1h-1zM308 338h1v1h-1zM308 340h1v1h-1zM308 342h1v1h-1zM308 348h1v1h-1zM309 287h1v1h-1zM309 293h1v1h-1zM309 295h1v1h-1zM309 297h1v1h-1zM309 299h1v1h-1zM309 301h1v1h-1zM309 302h1v1h-1zM309 304h1v1h-1zM309 305h1v1h-1zM309 307h1v1h-1zM309 309h1v1h-1zM309 311h1v1h-1zM309 312h1v1h-1zM309 313h1v1h-1zM309 316h1v1h-1zM309 317h1v1h-1zM309 318h1v1h-1zM309 319h1v1h-1zM309 321h1v1h-1zM309 322h1v1h-1zM309 323h1v1h-1zM309 325h1v1h-1zM309 327h1v1h-1zM309 328h1v1h-1zM309 332h1v1h-1zM309 334h1v1h-1zM309 337h1v1h-1zM309 340h1v1h-1zM309 342h1v1h-1zM309 343h1v1h-1zM310 288h1v1h-1zM310 290h1v1h-1zM310 295h1v1h-1zM310 298h1v1h-1zM310 303h1v1h-1zM310 306h1v1h-1zM310 307h1v1h-1zM310 309h1v1h-1zM310 311h1v1h-1zM310 312h1v1h-1zM310 314h1v1h-1zM310 315h1v1h-1zM310 316h1v1h-1zM310 317h1v1h-1zM310 318h1v1h-1zM310 319h1v1h-1zM310 320h1v1h-1zM310 322h1v1h-1zM310 323h1v1h-1zM310 324h1v1h-1zM310 327h1v1h-1zM310 328h1v1h-1zM310 329h1v1h-1zM310 331h1v1h-1zM310 333h1v1h-1zM310 338h1v1h-1zM310 339h1v1h-1zM310 342h1v1h-1zM310 344h1v1h-1zM311 286h1v1h-1zM311 290h1v1h-1zM311 295h1v1h-1zM311 297h1v1h-1zM311 300h1v1h-1zM311 301h1v1h-1zM311 303h1v1h-1zM311 305h1v1h-1zM311 306h1v1h-1zM311 307h1v1h-1zM311 308h1v1h-1zM311 309h1v1h-1zM311 310h1v1h-1zM311 311h1v1h-1zM311 312h1v1h-1zM311 313h1v1h-1zM311 314h1v1h-1zM311 316h1v1h-1zM311 317h1v1h-1zM311 318h1v1h-1zM311 319h1v1h-1zM311 321h1v1h-1zM311 322h1v1h-1zM311 323h1v1h-1zM311 324h1v1h-1zM311 327h1v1h-1zM311 328h1v1h-1zM311 329h1v1h-1zM311 334h1v1h-1zM311 336h1v1h-1zM311 340h1v1h-1zM312 292h1v1h-1zM312 294h1v1h-1zM312 298h1v1h-1zM312 299h1v1h-1zM312 300h1v1h-1zM312 301h1v1h-1zM312 302h1v1h-1zM312 305h1v1h-1zM312 306h1v1h-1zM312 308h1v1h-1zM312 309h1v1h-1zM312 310h1v1h-1zM312 311h1v1h-1zM312 316h1v1h-1zM312 317h1v1h-1zM312 318h1v1h-1zM312 319h1v1h-1zM312 321h1v1h-1zM312 323h1v1h-1zM312 324h1v1h-1zM312 325h1v1h-1zM312 326h1v1h-1zM312 330h1v1h-1zM312 331h1v1h-1zM312 338h1v1h-1zM312 343h1v1h-1zM313 284h1v1h-1zM313 292h1v1h-1zM313 296h1v1h-1zM313 300h1v1h-1zM313 301h1v1h-1zM313 302h1v1h-1zM313 303h1v1h-1zM313 304h1v1h-1zM313 305h1v1h-1zM313 306h1v1h-1zM313 307h1v1h-1zM313 308h1v1h-1zM313 309h1v1h-1zM313 311h1v1h-1zM313 312h1v1h-1zM313 313h1v1h-1zM313 314h1v1h-1zM313 315h1v1h-1zM313 317h1v1h-1zM313 318h1v1h-1zM313 319h1v1h-1zM313 320h1v1h-1zM313 321h1v1h-1zM313 322h1v1h-1zM313 323h1v1h-1zM313 324h1v1h-1zM313 325h1v1h-1zM313 328h1v1h-1zM313 330h1v1h-1zM313 331h1v1h-1zM313 339h1v1h-1zM314 291h1v1h-1zM314 297h1v1h-1zM314 302h1v1h-1zM314 303h1v1h-1zM314 304h1v1h-1zM314 305h1v1h-1zM314 306h1v1h-1zM314 307h1v1h-1zM314 309h1v1h-1zM314 311h1v1h-1zM314 312h1v1h-1zM314 313h1v1h-1zM314 314h1v1h-1zM314 315h1v1h-1zM314 316h1v1h-1zM314 317h1v1h-1zM314 318h1v1h-1zM314 319h1v1h-1zM314 321h1v1h-1zM314 323h1v1h-1zM314 325h1v1h-1zM314 326h1v1h-1zM314 327h1v1h-1zM314 329h1v1h-1zM314 330h1v1h-1zM314 331h1v1h-1zM314 332h1v1h-1zM314 336h1v1h-1zM314 337h1v1h-1zM314 347h1v1h-1zM315 282h1v1h-1zM315 285h1v1h-1zM315 291h1v1h-1zM315 292h1v1h-1zM315 293h1v1h-1zM315 300h1v1h-1zM315 301h1v1h-1zM315 306h1v1h-1zM315 307h1v1h-1zM315 308h1v1h-1zM315 311h1v1h-1zM315 312h1v1h-1zM315 314h1v1h-1zM315 315h1v1h-1zM315 316h1v1h-1zM315 317h1v1h-1zM315 318h1v1h-1zM315 319h1v1h-1zM315 324h1v1h-1zM315 325h1v1h-1zM315 326h1v1h-1zM315 329h1v1h-1zM315 330h1v1h-1zM315 336h1v1h-1zM316 282h1v1h-1zM316 288h1v1h-1zM316 297h1v1h-1zM316 301h1v1h-1zM316 302h1v1h-1zM316 305h1v1h-1zM316 306h1v1h-1zM316 307h1v1h-1zM316 308h1v1h-1zM316 309h1v1h-1zM316 310h1v1h-1zM316 314h1v1h-1zM316 318h1v1h-1zM316 322h1v1h-1zM316 323h1v1h-1zM316 324h1v1h-1zM316 328h1v1h-1zM316 329h1v1h-1zM316 330h1v1h-1zM316 331h1v1h-1zM316 333h1v1h-1zM317 292h1v1h-1zM317 297h1v1h-1zM317 300h1v1h-1zM317 302h1v1h-1zM317 303h1v1h-1zM317 304h1v1h-1zM317 305h1v1h-1zM317 306h1v1h-1zM317 307h1v1h-1zM317 308h1v1h-1zM317 309h1v1h-1zM317 310h1v1h-1zM317 311h1v1h-1zM317 312h1v1h-1zM317 313h1v1h-1zM317 314h1v1h-1zM317 316h1v1h-1zM317 318h1v1h-1zM317 320h1v1h-1zM317 323h1v1h-1zM317 325h1v1h-1zM317 328h1v1h-1zM317 337h1v1h-1zM318 290h1v1h-1zM318 294h1v1h-1zM318 295h1v1h-1zM318 298h1v1h-1zM318 300h1v1h-1zM318 302h1v1h-1zM318 304h1v1h-1zM318 306h1v1h-1zM318 307h1v1h-1zM318 310h1v1h-1zM318 311h1v1h-1zM318 312h1v1h-1zM318 313h1v1h-1zM318 316h1v1h-1zM318 317h1v1h-1zM318 319h1v1h-1zM318 327h1v1h-1zM318 331h1v1h-1zM318 333h1v1h-1zM319 284h1v1h-1zM319 295h1v1h-1zM319 296h1v1h-1zM319 300h1v1h-1zM319 301h1v1h-1zM319 302h1v1h-1zM319 303h1v1h-1zM319 305h1v1h-1zM319 306h1v1h-1zM319 307h1v1h-1zM319 308h1v1h-1zM319 309h1v1h-1zM319 312h1v1h-1zM319 313h1v1h-1zM319 314h1v1h-1zM319 315h1v1h-1zM319 324h1v1h-1zM319 332h1v1h-1zM319 333h1v1h-1zM320 289h1v1h-1zM320 293h1v1h-1zM320 299h1v1h-1zM320 302h1v1h-1zM320 303h1v1h-1zM320 306h1v1h-1zM320 308h1v1h-1zM320 309h1v1h-1zM320 310h1v1h-1zM320 311h1v1h-1zM320 315h1v1h-1zM320 319h1v1h-1zM320 320h1v1h-1zM320 323h1v1h-1zM320 327h1v1h-1zM320 348h1v1h-1zM320 361h1v1h-1zM321 284h1v1h-1zM321 293h1v1h-1zM321 296h1v1h-1zM321 297h1v1h-1zM321 300h1v1h-1zM321 302h1v1h-1zM321 304h1v1h-1zM321 306h1v1h-1zM321 307h1v1h-1zM321 311h1v1h-1zM321 313h1v1h-1zM321 316h1v1h-1zM321 317h1v1h-1zM321 318h1v1h-1zM321 319h1v1h-1zM321 321h1v1h-1zM321 322h1v1h-1zM321 323h1v1h-1zM322 282h1v1h-1zM322 287h1v1h-1zM322 288h1v1h-1zM322 297h1v1h-1zM322 298h1v1h-1zM322 300h1v1h-1zM322 302h1v1h-1zM322 303h1v1h-1zM322 304h1v1h-1zM322 307h1v1h-1zM322 308h1v1h-1zM322 309h1v1h-1zM322 310h1v1h-1zM322 312h1v1h-1zM322 313h1v1h-1zM322 314h1v1h-1zM322 315h1v1h-1zM322 316h1v1h-1zM322 318h1v1h-1zM322 321h1v1h-1zM322 322h1v1h-1zM322 323h1v1h-1zM322 328h1v1h-1zM323 296h1v1h-1zM323 297h1v1h-1zM323 299h1v1h-1zM323 301h1v1h-1zM323 302h1v1h-1zM323 303h1v1h-1zM323 305h1v1h-1zM323 306h1v1h-1zM323 307h1v1h-1zM323 311h1v1h-1zM323 313h1v1h-1zM323 314h1v1h-1zM323 317h1v1h-1zM323 320h1v1h-1zM323 327h1v1h-1zM323 329h1v1h-1zM323 330h1v1h-1zM323 334h1v1h-1zM323 340h1v1h-1zM324 291h1v1h-1zM324 294h1v1h-1zM324 299h1v1h-1zM324 308h1v1h-1zM324 309h1v1h-1zM324 310h1v1h-1zM324 315h1v1h-1zM324 317h1v1h-1zM324 319h1v1h-1zM324 320h1v1h-1zM324 323h1v1h-1zM324 326h1v1h-1zM324 330h1v1h-1zM324 335h1v1h-1zM325 280h1v1h-1zM325 288h1v1h-1zM325 294h1v1h-1zM325 298h1v1h-1zM325 299h1v1h-1zM325 305h1v1h-1zM325 306h1v1h-1zM325 309h1v1h-1zM325 313h1v1h-1zM325 319h1v1h-1zM325 320h1v1h-1zM325 324h1v1h-1zM325 326h1v1h-1zM325 327h1v1h-1zM325 343h1v1h-1zM326 286h1v1h-1zM326 290h1v1h-1zM326 292h1v1h-1zM326 294h1v1h-1zM326 298h1v1h-1zM326 304h1v1h-1zM326 306h1v1h-1zM326 308h1v1h-1zM326 318h1v1h-1zM326 319h1v1h-1zM326 334h1v1h-1zM327 284h1v1h-1zM327 294h1v1h-1zM327 295h1v1h-1zM327 298h1v1h-1zM327 303h1v1h-1zM327 304h1v1h-1zM327 306h1v1h-1zM327 307h1v1h-1zM327 310h1v1h-1zM327 315h1v1h-1zM327 326h1v1h-1zM328 294h1v1h-1zM328 298h1v1h-1zM328 301h1v1h-1zM328 307h1v1h-1zM328 312h1v1h-1zM328 313h1v1h-1zM328 315h1v1h-1zM328 316h1v1h-1zM328 324h1v1h-1zM328 328h1v1h-1zM329 286h1v1h-1zM329 288h1v1h-1zM329 292h1v1h-1zM329 296h1v1h-1zM329 308h1v1h-1zM329 323h1v1h-1zM329 324h1v1h-1zM329 325h1v1h-1zM330 286h1v1h-1zM330 301h1v1h-1zM330 302h1v1h-1zM330 303h1v1h-1zM330 304h1v1h-1zM330 312h1v1h-1zM330 317h1v1h-1zM330 318h1v1h-1zM330 319h1v1h-1zM330 323h1v1h-1zM330 324h1v1h-1zM330 326h1v1h-1zM330 333h1v1h-1zM330 338h1v1h-1zM331 305h1v1h-1zM331 306h1v1h-1zM331 308h1v1h-1zM331 314h1v1h-1zM331 318h1v1h-1zM331 319h1v1h-1zM331 326h1v1h-1zM332 290h1v1h-1zM332 300h1v1h-1zM332 304h1v1h-1zM332 305h1v1h-1zM333 298h1v1h-1zM333 300h1v1h-1zM333 302h1v1h-1zM333 303h1v1h-1zM333 307h1v1h-1zM333 310h1v1h-1zM333 311h1v1h-1zM333 312h1v1h-1zM333 317h1v1h-1zM333 318h1v1h-1zM334 281h1v1h-1zM334 300h1v1h-1zM334 303h1v1h-1zM334 309h1v1h-1zM334 315h1v1h-1zM334 318h1v1h-1zM335 300h1v1h-1zM335 304h1v1h-1zM335 306h1v1h-1zM335 308h1v1h-1zM335 310h1v1h-1zM335 321h1v1h-1zM335 326h1v1h-1zM336 295h1v1h-1zM336 316h1v1h-1zM336 317h1v1h-1zM337 293h1v1h-1zM338 286h1v1h-1zM338 288h1v1h-1zM338 295h1v1h-1zM338 298h1v1h-1zM338 304h1v1h-1zM339 280h1v1h-1zM339 298h1v1h-1zM339 306h1v1h-1zM340 301h1v1h-1zM340 334h1v1h-1zM341 315h1v1h-1zM343 294h1v1h-1zM343 295h1v1h-1zM343 299h1v1h-1zM344 312h1v1h-1zM345 289h1v1h-1zM345 303h1v1h-1zM345 318h1v1h-1zM345 330h1v1h-1zM346 301h1v1h-1zM346 302h1v1h-1zM347 304h1v1h-1zM347 312h1v1h-1zM348 285h1v1h-1zM348 296h1v1h-1zM349 299h1v1h-1zM350 297h1v1h-1zM350 311h1v1h-1zM351 288h1v1h-1zM353 309h1v1h-1z" fill="#111"/>
<line x1="238.00" y1="327.60" x2="330.00" y2="327.60" stroke="#e4e4e4" stroke-width="1.2" />
<line x1="263.00" y1="300.00" x2="263.00" y2="355.00" stroke="#bdbdbd" stroke-width="1.1" />
<rect x="218.20" y="249.20" width="140.50" height="131.80" fill="none" stroke="#333" stroke-width="1.3"/>
<line x1="218.20" y1="381.00" x2="218.20" y2="384.00" stroke="#333" stroke-width="0.8" />
<line x1="215.20" y1="381.00" x2="218.20" y2="381.00" stroke="#333" stroke-width="0.8" />
<line x1="228.77" y1="381.00" x2="228.77" y2="382.60" stroke="#333" stroke-width="0.8" />
<line x1="216.60" y1="371.08" x2="218.20" y2="371.08" stroke="#333" stroke-width="0.8" />
<line x1="234.96" y1="381.00" x2="234.96" y2="382.60" stroke="#333" stroke-width="0.8" />
<line x1="216.60" y1="365.28" x2="218.20" y2="365.28" stroke="#333" stroke-width="0.8" />
<line x1="239.35" y1="381.00" x2="239.35" y2="382.60" stroke="#333" stroke-width="0.8" />
<line x1="216.60" y1="361.16" x2="218.20" y2="361.16" stroke="#333" stroke-width="0.8" />
<line x1="242.75" y1="381.00" x2="242.75" y2="382.60" stroke="#333" stroke-width="0.8" />
<line x1="216.60" y1="357.97" x2="218.20" y2="357.97" stroke="#333" stroke-width="0.8" />
<line x1="245.53" y1="381.00" x2="245.53" y2="382.60" stroke="#333" stroke-width="0.8" />
<line x1="216.60" y1="355.36" x2="218.20" y2="355.36" stroke="#333" stroke-width="0.8" />
<line x1="247.88" y1="381.00" x2="247.88" y2="382.60" stroke="#333" stroke-width="0.8" />
<line x1="216.60" y1="353.15" x2="218.20" y2="353.15" stroke="#333" stroke-width="0.8" />
<line x1="249.92" y1="381.00" x2="249.92" y2="382.60" stroke="#333" stroke-width="0.8" />
<line x1="216.60" y1="351.24" x2="218.20" y2="351.24" stroke="#333" stroke-width="0.8" />
<line x1="251.72" y1="381.00" x2="251.72" y2="382.60" stroke="#333" stroke-width="0.8" />
<line x1="216.60" y1="349.56" x2="218.20" y2="349.56" stroke="#333" stroke-width="0.8" />
<line x1="253.32" y1="381.00" x2="253.32" y2="384.00" stroke="#333" stroke-width="0.8" />
<line x1="215.20" y1="348.05" x2="218.20" y2="348.05" stroke="#333" stroke-width="0.8" />
<line x1="263.90" y1="381.00" x2="263.90" y2="382.60" stroke="#333" stroke-width="0.8" />
<line x1="216.60" y1="338.13" x2="218.20" y2="338.13" stroke="#333" stroke-width="0.8" />
<line x1="270.08" y1="381.00" x2="270.08" y2="382.60" stroke="#333" stroke-width="0.8" />
<line x1="216.60" y1="332.33" x2="218.20" y2="332.33" stroke="#333" stroke-width="0.8" />
<line x1="274.47" y1="381.00" x2="274.47" y2="382.60" stroke="#333" stroke-width="0.8" />
<line x1="216.60" y1="328.21" x2="218.20" y2="328.21" stroke="#333" stroke-width="0.8" />
<line x1="277.88" y1="381.00" x2="277.88" y2="382.60" stroke="#333" stroke-width="0.8" />
<line x1="216.60" y1="325.02" x2="218.20" y2="325.02" stroke="#333" stroke-width="0.8" />
<line x1="280.66" y1="381.00" x2="280.66" y2="382.60" stroke="#333" stroke-width="0.8" />
<line x1="216.60" y1="322.41" x2="218.20" y2="322.41" stroke="#333" stroke-width="0.8" />
<line x1="283.01" y1="381.00" x2="283.01" y2="382.60" stroke="#333" stroke-width="0.8" />
<line x1="216.60" y1="320.20" x2="218.20" y2="320.20" stroke="#333" stroke-width="0.8" />
<line x1="285.05" y1="381.00" x2="285.05" y2="382.60" stroke="#333" stroke-width="0.8" />
<line x1="216.60" y1="318.29" x2="218.20" y2="318.29" stroke="#333" stroke-width="0.8" />
<line x1="286.84" y1="381.00" x2="286.84" y2="382.60" stroke="#333" stroke-width="0.8" />
<line x1="216.60" y1="316.61" x2="218.20" y2="316.61" stroke="#333" stroke-width="0.8" />
<line x1="288.45" y1="381.00" x2="288.45" y2="384.00" stroke="#333" stroke-width="0.8" />
<line x1="215.20" y1="315.10" x2="218.20" y2="315.10" stroke="#333" stroke-width="0.8" />
<line x1="299.02" y1="381.00" x2="299.02" y2="382.60" stroke="#333" stroke-width="0.8" />
<line x1="216.60" y1="305.18" x2="218.20" y2="305.18" stroke="#333" stroke-width="0.8" />
<line x1="305.21" y1="381.00" x2="305.21" y2="382.60" stroke="#333" stroke-width="0.8" />
<line x1="216.60" y1="299.38" x2="218.20" y2="299.38" stroke="#333" stroke-width="0.8" />
<line x1="309.60" y1="381.00" x2="309.60" y2="382.60" stroke="#333" stroke-width="0.8" />
<line x1="216.60" y1="295.26" x2="218.20" y2="295.26" stroke="#333" stroke-width="0.8" />
<line x1="313.00" y1="381.00" x2="313.00" y2="382.60" stroke="#333" stroke-width="0.8" />
<line x1="216.60" y1="292.07" x2="218.20" y2="292.07" stroke="#333" stroke-width="0.8" />
<line x1="315.78" y1="381.00" x2="315.78" y2="382.60" stroke="#333" stroke-width="0.8" />
<line x1="216.60" y1="289.46" x2="218.20" y2="289.46" stroke="#333" stroke-width="0.8" />
<line x1="318.13" y1="381.00" x2="318.13" y2="382.60" stroke="#333" stroke-width="0.8" />
<line x1="216.60" y1="287.25" x2="218.20" y2="287.25" stroke="#333" stroke-width="0.8" />
<line x1="320.17" y1="381.00" x2="320.17" y2="382.60" stroke="#333" stroke-width="0.8" />
<line x1="216.60" y1="285.34" x2="218.20" y2="285.34" stroke="#333" stroke-width="0.8" />
<line x1="321.97" y1="381.00" x2="321.97" y2="382.60" stroke="#333" stroke-width="0.8" />
<line x1="216.60" y1="283.66" x2="218.20" y2="283.66" stroke="#333" stroke-width="0.8" />
<line x1="323.57" y1="381.00" x2="323.57" y2="384.00" stroke="#333" stroke-width="0.8" />
<line x1="215.20" y1="282.15" x2="218.20" y2="282.15" stroke="#333" stroke-width="0.8" />
<line x1="334.15" y1="381.00" x2="334.15" y2="382.60" stroke="#333" stroke-width="0.8" />
<line x1="216.60" y1="272.23" x2="218.20" y2="272.23" stroke="#333" stroke-width="0.8" />
<line x1="340.33" y1="381.00" x2="340.33" y2="382.60" stroke="#333" stroke-width="0.8" />
<line x1="216.60" y1="266.43" x2="218.20" y2="266.43" stroke="#333" stroke-width="0.8" />
<line x1="344.72" y1="381.00" x2="344.72" y2="382.60" stroke="#333" stroke-width="0.8" />
<line x1="216.60" y1="262.31" x2="218.20" y2="262.31" stroke="#333" stroke-width="0.8" />
<line x1="348.13" y1="381.00" x2="348.13" y2="382.60" stroke="#333" stroke-width="0.8" />
<line x1="216.60" y1="259.12" x2="218.20" y2="259.12" stroke="#333" stroke-width="0.8" />
<line x1="350.91" y1="381.00" x2="350.91" y2="382.60" stroke="#333" stroke-width="0.8" />
<line x1="216.60" y1="256.51" x2="218.20" y2="256.51" stroke="#333" stroke-width="0.8" />
<line x1="353.26" y1="381.00" x2="353.26" y2="382.60" stroke="#333" stroke-width="0.8" />
<line x1="216.60" y1="254.30" x2="218.20" y2="254.30" stroke="#333" stroke-width="0.8" />
<line x1="355.30" y1="381.00" x2="355.30" y2="382.60" stroke="#333" stroke-width="0.8" />
<line x1="216.60" y1="252.39" x2="218.20" y2="252.39" stroke="#333" stroke-width="0.8" />
<line x1="357.09" y1="381.00" x2="357.09" y2="382.60" stroke="#333" stroke-width="0.8" />
<line x1="216.60" y1="250.71" x2="218.20" y2="250.71" stroke="#333" stroke-width="0.8" />
<line x1="358.70" y1="381.00" x2="358.70" y2="384.00" stroke="#333" stroke-width="0.8" />
<line x1="215.20" y1="249.20" x2="218.20" y2="249.20" stroke="#333" stroke-width="0.8" />
<text x="218.20" y="391.6" font-size="9" fill="#111" stroke="#111" stroke-width="0.15">10<tspan font-size="4.9" dx="0.3" dy="-3">0</tspan></text>
<text transform="translate(214.30,380.40) rotate(-90)" font-size="9" fill="#111" stroke="#111" stroke-width="0.15">10<tspan font-size="4.9" dx="0.3" dy="-3">0</tspan></text>
<text x="253.32" y="391.6" font-size="9" fill="#111" stroke="#111" stroke-width="0.15">10<tspan font-size="4.9" dx="0.3" dy="-3">1</tspan></text>
<text transform="translate(214.30,347.45) rotate(-90)" font-size="9" fill="#111" stroke="#111" stroke-width="0.15">10<tspan font-size="4.9" dx="0.3" dy="-3">1</tspan></text>
<text x="288.45" y="391.6" font-size="9" fill="#111" stroke="#111" stroke-width="0.15">10<tspan font-size="4.9" dx="0.3" dy="-3">2</tspan></text>
<text transform="translate(214.30,314.50) rotate(-90)" font-size="9" fill="#111" stroke="#111" stroke-width="0.15">10<tspan font-size="4.9" dx="0.3" dy="-3">2</tspan></text>
<text x="323.57" y="391.6" font-size="9" fill="#111" stroke="#111" stroke-width="0.15">10<tspan font-size="4.9" dx="0.3" dy="-3">3</tspan></text>
<text transform="translate(214.30,281.55) rotate(-90)" font-size="9" fill="#111" stroke="#111" stroke-width="0.15">10<tspan font-size="4.9" dx="0.3" dy="-3">3</tspan></text>
<text x="358.70" y="391.6" font-size="9" fill="#111" stroke="#111" stroke-width="0.15">10<tspan font-size="4.9" dx="0.3" dy="-3">4</tspan></text>
<text transform="translate(214.30,248.60) rotate(-90)" font-size="9" fill="#111" stroke="#111" stroke-width="0.15">10<tspan font-size="4.9" dx="0.3" dy="-3">4</tspan></text>
<text transform="translate(231.80 264.60)" font-size="13.6" font-weight="bold" >8</text>
<text transform="translate(354.60 265.20)" font-size="13.6" font-weight="bold" text-anchor="end" >42</text>
<text transform="translate(228.10 378.70)" font-size="13.6" font-weight="bold" >30</text>
<text transform="translate(354.60 378.70)" font-size="13.6" font-weight="bold" text-anchor="end" >20</text>
<text transform="translate(13.40 335.50) rotate(-90) scale(1.0 0.95)" font-size="13.7" font-weight="bold" >CD14</text>
<line x1="8.90" y1="415.20" x2="8.90" y2="358.00" stroke="#555" stroke-width="1.3" />
<path d="M8.9 351 L4.7 360 L13.1 360 Z" fill="#111"/>
<line x1="8.30" y1="415.00" x2="95.00" y2="415.00" stroke="#555" stroke-width="1.3" />
<path d="M102.4 415 L93.6 410.4 L93.6 419.6 Z" fill="#111"/>
<text transform="translate(114.86 421.50)" font-size="13.1" font-weight="bold" >CFSE</text>
<text transform="translate(-0.40 465.30) scale(0.93 1.0)" font-size="29.6" font-weight="bold" stroke="#111" stroke-width="0.7">D</text>
<rect x="60.35" y="454.15" width="18.10" height="7.70" fill="#fff" stroke="#1a1a1a" stroke-width="1.5"/>
<rect x="60.35" y="469.25" width="18.10" height="7.40" fill="#1c1c1c" stroke="#1a1a1a" stroke-width="1.5"/>
<text transform="translate(80.98 461.60)" font-size="10.2" font-weight="normal" >Mϕ1</text>
<text transform="translate(80.98 476.60)" font-size="10.2" font-weight="normal" >Mϕ2</text>
<line x1="48.20" y1="474.80" x2="48.20" y2="606.80" stroke="#444" stroke-width="1.7" />
<line x1="43.60" y1="486.90" x2="48.20" y2="486.90" stroke="#444" stroke-width="1.3" />
<text transform="translate(41.80 490.30) scale(0.89 1.0)" font-size="9.8" font-weight="bold" text-anchor="end" stroke="#111" stroke-width="0.18">100</text>
<line x1="43.60" y1="510.74" x2="48.20" y2="510.74" stroke="#444" stroke-width="1.3" />
<text transform="translate(41.80 514.14) scale(0.89 1.0)" font-size="9.8" font-weight="bold" text-anchor="end" stroke="#111" stroke-width="0.18">80</text>
<line x1="43.60" y1="534.58" x2="48.20" y2="534.58" stroke="#444" stroke-width="1.3" />
<text transform="translate(41.80 537.98) scale(0.89 1.0)" font-size="9.8" font-weight="bold" text-anchor="end" stroke="#111" stroke-width="0.18">60</text>
<line x1="43.60" y1="558.42" x2="48.20" y2="558.42" stroke="#444" stroke-width="1.3" />
<text transform="translate(41.80 561.82) scale(0.89 1.0)" font-size="9.8" font-weight="bold" text-anchor="end" stroke="#111" stroke-width="0.18">40</text>
<line x1="43.60" y1="582.26" x2="48.20" y2="582.26" stroke="#444" stroke-width="1.3" />
<text transform="translate(41.80 585.66) scale(0.89 1.0)" font-size="9.8" font-weight="bold" text-anchor="end" stroke="#111" stroke-width="0.18">20</text>
<line x1="47.40" y1="606.10" x2="244.00" y2="606.10" stroke="#333" stroke-width="1.6" />
<line x1="48.20" y1="487.00" x2="243.00" y2="487.00" stroke="#1a1a1a" stroke-width="1.3" stroke-dasharray="2.2 1.8"/>
<line x1="78.95" y1="487.60" x2="78.95" y2="493.40" stroke="#1a1a1a" stroke-width="1.5" />
<line x1="73.30" y1="487.60" x2="84.60" y2="487.60" stroke="#1a1a1a" stroke-width="1.5" />
<rect x="66.75" y="493.15" width="23.10" height="112.95" fill="#fff" stroke="#1a1a1a" stroke-width="1.5"/>
<line x1="116.50" y1="485.70" x2="116.50" y2="497.50" stroke="#1a1a1a" stroke-width="1.5" />
<line x1="110.00" y1="485.70" x2="123.00" y2="485.70" stroke="#1a1a1a" stroke-width="1.5" />
<rect x="103.85" y="497.25" width="22.60" height="108.85" fill="#1c1c1c" stroke="#1a1a1a" stroke-width="1.5"/>
<line x1="176.50" y1="480.80" x2="176.50" y2="506.60" stroke="#1a1a1a" stroke-width="1.5" />
<line x1="170.50" y1="480.80" x2="182.50" y2="480.80" stroke="#1a1a1a" stroke-width="1.5" />
<rect x="165.15" y="506.35" width="23.30" height="99.75" fill="#fff" stroke="#1a1a1a" stroke-width="1.5"/>
<line x1="213.55" y1="523.70" x2="213.55" y2="534.80" stroke="#1a1a1a" stroke-width="1.5" />
<line x1="207.30" y1="523.70" x2="219.80" y2="523.70" stroke="#1a1a1a" stroke-width="1.5" />
<rect x="201.75" y="534.55" width="23.30" height="71.55" fill="#1c1c1c" stroke="#1a1a1a" stroke-width="1.5"/>
<text transform="translate(213.00 515.50)" font-size="10" font-weight="bold" text-anchor="middle" >**</text>
<text transform="translate(97.00 618.60) scale(0.95 1.0)" font-size="9.8" font-weight="bold" text-anchor="middle" >37<tspan font-weight="bold" font-size="14" dx="-0.2" dy="0.5">◦</tspan><tspan dx="0.5" dy="-0.5">C</tspan></text>
<text transform="translate(195.00 618.60) scale(0.95 1.0)" font-size="9.8" font-weight="bold" text-anchor="middle" >4<tspan font-weight="bold" font-size="14" dx="-0.2" dy="0.5">◦</tspan><tspan dx="0.5" dy="-0.5">C</tspan></text>
<text transform="translate(8.80 602.50) rotate(-90) scale(1.0 0.92)" font-size="10.4" font-weight="bold" >relative uptake / binding</text>
<text transform="translate(22.40 549.50) rotate(-90) scale(1.0 0.92)" font-size="10.4" font-weight="bold" >(%)</text>
</svg>
</body></html>
